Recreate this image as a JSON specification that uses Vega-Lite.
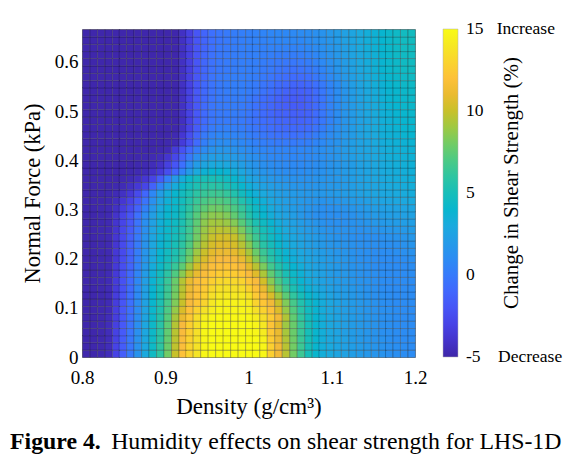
{
"$schema": "https://vega.github.io/schema/vega-lite/v6.json",
"width": 333, "height": 328,
"autosize": {"type": "none"},
"padding": {"left": 82, "top": 29, "right": 158, "bottom": 98},
"background": "white",
"config": {"view": {"stroke": "#a8a8a8", "strokeWidth": 1}, "font": "Liberation Serif"},
"title": {"text": "Figure 4.", "subtitle": "\u200b\u00a0\u00a0\u00a0\u00a0\u00a0\u00a0\u00a0\u00a0\u00a0\u00a0\u00a0\u00a0\u00a0\u00a0\u00a0\u00a0\u00a0Humidity effects on shear strength for LHS-1D", "orient": "bottom", "anchor": "start", "frame": "group", "dx": -72, "offset": 12, "font": "Liberation Serif", "fontSize": 23.8, "fontWeight": "bold", "color": "black", "subtitleFont": "Liberation Serif", "subtitleFontSize": 23.8, "subtitleFontWeight": "normal", "subtitleColor": "black", "subtitlePadding": -23.8},
"data": {"values": [
{"d":0.8,"f":0,"c":-4.9},{"d":0.809,"f":0,"c":-4.9},{"d":0.818,"f":0,"c":-4.8},{"d":0.827,"f":0,"c":-4.5},{"d":0.836,"f":0,"c":-3},{"d":0.844,"f":0,"c":-1.5},{"d":0.853,"f":0,"c":0},{"d":0.862,"f":0,"c":1.5},{"d":0.871,"f":0,"c":3},{"d":0.88,"f":0,"c":4.5},{"d":0.889,"f":0,"c":6},{"d":0.898,"f":0,"c":8},{"d":0.907,"f":0,"c":10},{"d":0.916,"f":0,"c":12},{"d":0.924,"f":0,"c":13},{"d":0.933,"f":0,"c":13.8},{"d":0.942,"f":0,"c":14.8},{"d":0.951,"f":0,"c":15},{"d":0.96,"f":0,"c":15},{"d":0.969,"f":0,"c":15},{"d":0.978,"f":0,"c":15},{"d":0.987,"f":0,"c":15},{"d":0.996,"f":0,"c":15},{"d":1.004,"f":0,"c":15},{"d":1.013,"f":0,"c":14.8},{"d":1.022,"f":0,"c":12.8},{"d":1.031,"f":0,"c":11.3},{"d":1.04,"f":0,"c":9.6},{"d":1.049,"f":0,"c":8},{"d":1.058,"f":0,"c":6.5},{"d":1.067,"f":0,"c":5},{"d":1.076,"f":0,"c":4},{"d":1.084,"f":0,"c":3.3},{"d":1.093,"f":0,"c":3},{"d":1.102,"f":0,"c":2.7},{"d":1.111,"f":0,"c":2.5},{"d":1.12,"f":0,"c":2.2},{"d":1.129,"f":0,"c":2},{"d":1.138,"f":0,"c":1.8},{"d":1.147,"f":0,"c":1.6},{"d":1.156,"f":0,"c":1.5},{"d":1.164,"f":0,"c":1.3},{"d":1.173,"f":0,"c":1.2},{"d":1.182,"f":0,"c":1.1},{"d":1.191,"f":0,"c":1},
{"d":0.8,"f":0.015,"c":-4.9},{"d":0.809,"f":0.015,"c":-4.9},{"d":0.818,"f":0.015,"c":-4.8},{"d":0.827,"f":0.015,"c":-4.5},{"d":0.836,"f":0.015,"c":-3},{"d":0.844,"f":0.015,"c":-1.6},{"d":0.853,"f":0.015,"c":-0.1},{"d":0.862,"f":0.015,"c":1.4},{"d":0.871,"f":0.015,"c":2.9},{"d":0.88,"f":0.015,"c":4.4},{"d":0.889,"f":0.015,"c":6},{"d":0.898,"f":0.015,"c":7.8},{"d":0.907,"f":0.015,"c":9.8},{"d":0.916,"f":0.015,"c":11.8},{"d":0.924,"f":0.015,"c":13},{"d":0.933,"f":0.015,"c":13.7},{"d":0.942,"f":0.015,"c":14.8},{"d":0.951,"f":0.015,"c":15},{"d":0.96,"f":0.015,"c":15},{"d":0.969,"f":0.015,"c":15},{"d":0.978,"f":0.015,"c":15},{"d":0.987,"f":0.015,"c":15},{"d":0.996,"f":0.015,"c":15},{"d":1.004,"f":0.015,"c":15},{"d":1.013,"f":0.015,"c":14.7},{"d":1.022,"f":0.015,"c":12.8},{"d":1.031,"f":0.015,"c":11.3},{"d":1.04,"f":0.015,"c":9.6},{"d":1.049,"f":0.015,"c":8},{"d":1.058,"f":0.015,"c":6.5},{"d":1.067,"f":0.015,"c":5},{"d":1.076,"f":0.015,"c":4},{"d":1.084,"f":0.015,"c":3.3},{"d":1.093,"f":0.015,"c":3},{"d":1.102,"f":0.015,"c":2.7},{"d":1.111,"f":0.015,"c":2.4},{"d":1.12,"f":0.015,"c":2.2},{"d":1.129,"f":0.015,"c":2},{"d":1.138,"f":0.015,"c":1.8},{"d":1.147,"f":0.015,"c":1.6},{"d":1.156,"f":0.015,"c":1.4},{"d":1.164,"f":0.015,"c":1.3},{"d":1.173,"f":0.015,"c":1.2},{"d":1.182,"f":0.015,"c":1.1},{"d":1.191,"f":0.015,"c":1},
{"d":0.8,"f":0.03,"c":-4.9},{"d":0.809,"f":0.03,"c":-4.9},{"d":0.818,"f":0.03,"c":-4.8},{"d":0.827,"f":0.03,"c":-4.5},{"d":0.836,"f":0.03,"c":-3.1},{"d":0.844,"f":0.03,"c":-1.6},{"d":0.853,"f":0.03,"c":-0.1},{"d":0.862,"f":0.03,"c":1.4},{"d":0.871,"f":0.03,"c":2.9},{"d":0.88,"f":0.03,"c":4.4},{"d":0.889,"f":0.03,"c":5.9},{"d":0.898,"f":0.03,"c":7.7},{"d":0.907,"f":0.03,"c":9.7},{"d":0.916,"f":0.03,"c":11.7},{"d":0.924,"f":0.03,"c":12.9},{"d":0.933,"f":0.03,"c":13.7},{"d":0.942,"f":0.03,"c":14.8},{"d":0.951,"f":0.03,"c":15},{"d":0.96,"f":0.03,"c":15},{"d":0.969,"f":0.03,"c":15},{"d":0.978,"f":0.03,"c":15},{"d":0.987,"f":0.03,"c":15},{"d":0.996,"f":0.03,"c":15},{"d":1.004,"f":0.03,"c":15},{"d":1.013,"f":0.03,"c":14.5},{"d":1.022,"f":0.03,"c":12.6},{"d":1.031,"f":0.03,"c":11.1},{"d":1.04,"f":0.03,"c":9.4},{"d":1.049,"f":0.03,"c":7.9},{"d":1.058,"f":0.03,"c":6.4},{"d":1.067,"f":0.03,"c":5},{"d":1.076,"f":0.03,"c":4},{"d":1.084,"f":0.03,"c":3.3},{"d":1.093,"f":0.03,"c":2.9},{"d":1.102,"f":0.03,"c":2.7},{"d":1.111,"f":0.03,"c":2.4},{"d":1.12,"f":0.03,"c":2.1},{"d":1.129,"f":0.03,"c":1.9},{"d":1.138,"f":0.03,"c":1.7},{"d":1.147,"f":0.03,"c":1.5},{"d":1.156,"f":0.03,"c":1.4},{"d":1.164,"f":0.03,"c":1.2},{"d":1.173,"f":0.03,"c":1.1},{"d":1.182,"f":0.03,"c":1},{"d":1.191,"f":0.03,"c":1},
{"d":0.8,"f":0.044,"c":-4.9},{"d":0.809,"f":0.044,"c":-4.9},{"d":0.818,"f":0.044,"c":-4.8},{"d":0.827,"f":0.044,"c":-4.5},{"d":0.836,"f":0.044,"c":-3.1},{"d":0.844,"f":0.044,"c":-1.7},{"d":0.853,"f":0.044,"c":-0.2},{"d":0.862,"f":0.044,"c":1.3},{"d":0.871,"f":0.044,"c":2.8},{"d":0.88,"f":0.044,"c":4.3},{"d":0.889,"f":0.044,"c":5.8},{"d":0.898,"f":0.044,"c":7.6},{"d":0.907,"f":0.044,"c":9.6},{"d":0.916,"f":0.044,"c":11.6},{"d":0.924,"f":0.044,"c":12.8},{"d":0.933,"f":0.044,"c":13.6},{"d":0.942,"f":0.044,"c":14.8},{"d":0.951,"f":0.044,"c":15},{"d":0.96,"f":0.044,"c":15},{"d":0.969,"f":0.044,"c":15},{"d":0.978,"f":0.044,"c":15},{"d":0.987,"f":0.044,"c":15},{"d":0.996,"f":0.044,"c":15},{"d":1.004,"f":0.044,"c":14.8},{"d":1.013,"f":0.044,"c":14.2},{"d":1.022,"f":0.044,"c":12.4},{"d":1.031,"f":0.044,"c":11},{"d":1.04,"f":0.044,"c":9.2},{"d":1.049,"f":0.044,"c":7.8},{"d":1.058,"f":0.044,"c":6.3},{"d":1.067,"f":0.044,"c":5},{"d":1.076,"f":0.044,"c":4},{"d":1.084,"f":0.044,"c":3.3},{"d":1.093,"f":0.044,"c":2.9},{"d":1.102,"f":0.044,"c":2.6},{"d":1.111,"f":0.044,"c":2.3},{"d":1.12,"f":0.044,"c":2.1},{"d":1.129,"f":0.044,"c":1.9},{"d":1.138,"f":0.044,"c":1.7},{"d":1.147,"f":0.044,"c":1.5},{"d":1.156,"f":0.044,"c":1.3},{"d":1.164,"f":0.044,"c":1.2},{"d":1.173,"f":0.044,"c":1.1},{"d":1.182,"f":0.044,"c":1},{"d":1.191,"f":0.044,"c":1},
{"d":0.8,"f":0.059,"c":-4.9},{"d":0.809,"f":0.059,"c":-4.9},{"d":0.818,"f":0.059,"c":-4.8},{"d":0.827,"f":0.059,"c":-4.5},{"d":0.836,"f":0.059,"c":-3.2},{"d":0.844,"f":0.059,"c":-1.8},{"d":0.853,"f":0.059,"c":-0.3},{"d":0.862,"f":0.059,"c":1.2},{"d":0.871,"f":0.059,"c":2.8},{"d":0.88,"f":0.059,"c":4.3},{"d":0.889,"f":0.059,"c":5.8},{"d":0.898,"f":0.059,"c":7.5},{"d":0.907,"f":0.059,"c":9.5},{"d":0.916,"f":0.059,"c":11.5},{"d":0.924,"f":0.059,"c":12.8},{"d":0.933,"f":0.059,"c":13.6},{"d":0.942,"f":0.059,"c":14.8},{"d":0.951,"f":0.059,"c":15},{"d":0.96,"f":0.059,"c":15},{"d":0.969,"f":0.059,"c":15},{"d":0.978,"f":0.059,"c":15},{"d":0.987,"f":0.059,"c":15},{"d":0.996,"f":0.059,"c":15},{"d":1.004,"f":0.059,"c":14.7},{"d":1.013,"f":0.059,"c":14},{"d":1.022,"f":0.059,"c":12.2},{"d":1.031,"f":0.059,"c":10.8},{"d":1.04,"f":0.059,"c":9},{"d":1.049,"f":0.059,"c":7.8},{"d":1.058,"f":0.059,"c":6.3},{"d":1.067,"f":0.059,"c":5},{"d":1.076,"f":0.059,"c":4},{"d":1.084,"f":0.059,"c":3.3},{"d":1.093,"f":0.059,"c":2.9},{"d":1.102,"f":0.059,"c":2.6},{"d":1.111,"f":0.059,"c":2.3},{"d":1.12,"f":0.059,"c":2.1},{"d":1.129,"f":0.059,"c":1.9},{"d":1.138,"f":0.059,"c":1.7},{"d":1.147,"f":0.059,"c":1.5},{"d":1.156,"f":0.059,"c":1.3},{"d":1.164,"f":0.059,"c":1.2},{"d":1.173,"f":0.059,"c":1.1},{"d":1.182,"f":0.059,"c":1},{"d":1.191,"f":0.059,"c":1},
{"d":0.8,"f":0.074,"c":-4.9},{"d":0.809,"f":0.074,"c":-4.9},{"d":0.818,"f":0.074,"c":-4.8},{"d":0.827,"f":0.074,"c":-4.5},{"d":0.836,"f":0.074,"c":-3.3},{"d":0.844,"f":0.074,"c":-1.9},{"d":0.853,"f":0.074,"c":-0.4},{"d":0.862,"f":0.074,"c":1.1},{"d":0.871,"f":0.074,"c":2.7},{"d":0.88,"f":0.074,"c":4.2},{"d":0.889,"f":0.074,"c":5.6},{"d":0.898,"f":0.074,"c":7.3},{"d":0.907,"f":0.074,"c":9.2},{"d":0.916,"f":0.074,"c":11},{"d":0.924,"f":0.074,"c":12.4},{"d":0.933,"f":0.074,"c":13.5},{"d":0.942,"f":0.074,"c":14.4},{"d":0.951,"f":0.074,"c":14.8},{"d":0.96,"f":0.074,"c":14.9},{"d":0.969,"f":0.074,"c":14.9},{"d":0.978,"f":0.074,"c":14.9},{"d":0.987,"f":0.074,"c":14.9},{"d":0.996,"f":0.074,"c":14.8},{"d":1.004,"f":0.074,"c":14.3},{"d":1.013,"f":0.074,"c":13.5},{"d":1.022,"f":0.074,"c":12.6},{"d":1.031,"f":0.074,"c":11.3},{"d":1.04,"f":0.074,"c":9.4},{"d":1.049,"f":0.074,"c":7.6},{"d":1.058,"f":0.074,"c":6.1},{"d":1.067,"f":0.074,"c":4.8},{"d":1.076,"f":0.074,"c":3.9},{"d":1.084,"f":0.074,"c":3.3},{"d":1.093,"f":0.074,"c":2.9},{"d":1.102,"f":0.074,"c":2.6},{"d":1.111,"f":0.074,"c":2.3},{"d":1.12,"f":0.074,"c":2.1},{"d":1.129,"f":0.074,"c":1.9},{"d":1.138,"f":0.074,"c":1.7},{"d":1.147,"f":0.074,"c":1.5},{"d":1.156,"f":0.074,"c":1.3},{"d":1.164,"f":0.074,"c":1.2},{"d":1.173,"f":0.074,"c":1.1},{"d":1.182,"f":0.074,"c":1},{"d":1.191,"f":0.074,"c":1},
{"d":0.8,"f":0.089,"c":-4.9},{"d":0.809,"f":0.089,"c":-4.9},{"d":0.818,"f":0.089,"c":-4.8},{"d":0.827,"f":0.089,"c":-4.6},{"d":0.836,"f":0.089,"c":-3.3},{"d":0.844,"f":0.089,"c":-1.9},{"d":0.853,"f":0.089,"c":-0.5},{"d":0.862,"f":0.089,"c":1},{"d":0.871,"f":0.089,"c":2.6},{"d":0.88,"f":0.089,"c":4.1},{"d":0.889,"f":0.089,"c":5.4},{"d":0.898,"f":0.089,"c":7},{"d":0.907,"f":0.089,"c":8.8},{"d":0.916,"f":0.089,"c":10.5},{"d":0.924,"f":0.089,"c":12},{"d":0.933,"f":0.089,"c":12.9},{"d":0.942,"f":0.089,"c":13.7},{"d":0.951,"f":0.089,"c":14.3},{"d":0.96,"f":0.089,"c":14.7},{"d":0.969,"f":0.089,"c":14.7},{"d":0.978,"f":0.089,"c":14.7},{"d":0.987,"f":0.089,"c":14.7},{"d":0.996,"f":0.089,"c":14.5},{"d":1.004,"f":0.089,"c":13.6},{"d":1.013,"f":0.089,"c":12.9},{"d":1.022,"f":0.089,"c":12},{"d":1.031,"f":0.089,"c":10.6},{"d":1.04,"f":0.089,"c":8.8},{"d":1.049,"f":0.089,"c":7.2},{"d":1.058,"f":0.089,"c":5.8},{"d":1.067,"f":0.089,"c":4.6},{"d":1.076,"f":0.089,"c":3.8},{"d":1.084,"f":0.089,"c":3.2},{"d":1.093,"f":0.089,"c":2.8},{"d":1.102,"f":0.089,"c":2.5},{"d":1.111,"f":0.089,"c":2.2},{"d":1.12,"f":0.089,"c":2},{"d":1.129,"f":0.089,"c":1.8},{"d":1.138,"f":0.089,"c":1.6},{"d":1.147,"f":0.089,"c":1.4},{"d":1.156,"f":0.089,"c":1.3},{"d":1.164,"f":0.089,"c":1.2},{"d":1.173,"f":0.089,"c":1.1},{"d":1.182,"f":0.089,"c":1},{"d":1.191,"f":0.089,"c":1},
{"d":0.8,"f":0.104,"c":-4.9},{"d":0.809,"f":0.104,"c":-4.9},{"d":0.818,"f":0.104,"c":-4.8},{"d":0.827,"f":0.104,"c":-4.6},{"d":0.836,"f":0.104,"c":-3.4},{"d":0.844,"f":0.104,"c":-2},{"d":0.853,"f":0.104,"c":-0.5},{"d":0.862,"f":0.104,"c":1},{"d":0.871,"f":0.104,"c":2.5},{"d":0.88,"f":0.104,"c":4},{"d":0.889,"f":0.104,"c":5.3},{"d":0.898,"f":0.104,"c":6.8},{"d":0.907,"f":0.104,"c":8.3},{"d":0.916,"f":0.104,"c":10},{"d":0.924,"f":0.104,"c":11.5},{"d":0.933,"f":0.104,"c":12.3},{"d":0.942,"f":0.104,"c":13},{"d":0.951,"f":0.104,"c":14},{"d":0.96,"f":0.104,"c":14.5},{"d":0.969,"f":0.104,"c":14.6},{"d":0.978,"f":0.104,"c":14.6},{"d":0.987,"f":0.104,"c":14.5},{"d":0.996,"f":0.104,"c":14.2},{"d":1.004,"f":0.104,"c":13},{"d":1.013,"f":0.104,"c":12.3},{"d":1.022,"f":0.104,"c":11.3},{"d":1.031,"f":0.104,"c":10},{"d":1.04,"f":0.104,"c":8.3},{"d":1.049,"f":0.104,"c":6.8},{"d":1.058,"f":0.104,"c":5.5},{"d":1.067,"f":0.104,"c":4.5},{"d":1.076,"f":0.104,"c":3.8},{"d":1.084,"f":0.104,"c":3.2},{"d":1.093,"f":0.104,"c":2.8},{"d":1.102,"f":0.104,"c":2.5},{"d":1.111,"f":0.104,"c":2.2},{"d":1.12,"f":0.104,"c":2},{"d":1.129,"f":0.104,"c":1.8},{"d":1.138,"f":0.104,"c":1.6},{"d":1.147,"f":0.104,"c":1.4},{"d":1.156,"f":0.104,"c":1.2},{"d":1.164,"f":0.104,"c":1.1},{"d":1.173,"f":0.104,"c":1},{"d":1.182,"f":0.104,"c":1},{"d":1.191,"f":0.104,"c":1},
{"d":0.8,"f":0.119,"c":-4.9},{"d":0.809,"f":0.119,"c":-4.9},{"d":0.818,"f":0.119,"c":-4.8},{"d":0.827,"f":0.119,"c":-4.6},{"d":0.836,"f":0.119,"c":-3.4},{"d":0.844,"f":0.119,"c":-2.1},{"d":0.853,"f":0.119,"c":-0.6},{"d":0.862,"f":0.119,"c":0.9},{"d":0.871,"f":0.119,"c":2.4},{"d":0.88,"f":0.119,"c":3.9},{"d":0.889,"f":0.119,"c":5.2},{"d":0.898,"f":0.119,"c":6.6},{"d":0.907,"f":0.119,"c":8.1},{"d":0.916,"f":0.119,"c":9.8},{"d":0.924,"f":0.119,"c":11.3},{"d":0.933,"f":0.119,"c":12.1},{"d":0.942,"f":0.119,"c":12.8},{"d":0.951,"f":0.119,"c":13.6},{"d":0.96,"f":0.119,"c":14},{"d":0.969,"f":0.119,"c":14.1},{"d":0.978,"f":0.119,"c":14.1},{"d":0.987,"f":0.119,"c":14},{"d":0.996,"f":0.119,"c":13.6},{"d":1.004,"f":0.119,"c":12.5},{"d":1.013,"f":0.119,"c":11.7},{"d":1.022,"f":0.119,"c":10.5},{"d":1.031,"f":0.119,"c":9},{"d":1.04,"f":0.119,"c":7.5},{"d":1.049,"f":0.119,"c":6.1},{"d":1.058,"f":0.119,"c":5},{"d":1.067,"f":0.119,"c":4.1},{"d":1.076,"f":0.119,"c":3.5},{"d":1.084,"f":0.119,"c":3},{"d":1.093,"f":0.119,"c":2.6},{"d":1.102,"f":0.119,"c":2.3},{"d":1.111,"f":0.119,"c":2.1},{"d":1.12,"f":0.119,"c":1.9},{"d":1.129,"f":0.119,"c":1.7},{"d":1.138,"f":0.119,"c":1.5},{"d":1.147,"f":0.119,"c":1.3},{"d":1.156,"f":0.119,"c":1.2},{"d":1.164,"f":0.119,"c":1.1},{"d":1.173,"f":0.119,"c":1},{"d":1.182,"f":0.119,"c":1},{"d":1.191,"f":0.119,"c":1},
{"d":0.8,"f":0.133,"c":-4.9},{"d":0.809,"f":0.133,"c":-4.9},{"d":0.818,"f":0.133,"c":-4.8},{"d":0.827,"f":0.133,"c":-4.6},{"d":0.836,"f":0.133,"c":-3.5},{"d":0.844,"f":0.133,"c":-2.2},{"d":0.853,"f":0.133,"c":-0.7},{"d":0.862,"f":0.133,"c":0.9},{"d":0.871,"f":0.133,"c":2.4},{"d":0.88,"f":0.133,"c":3.8},{"d":0.889,"f":0.133,"c":5.1},{"d":0.898,"f":0.133,"c":6.4},{"d":0.907,"f":0.133,"c":7.9},{"d":0.916,"f":0.133,"c":9.6},{"d":0.924,"f":0.133,"c":11.1},{"d":0.933,"f":0.133,"c":11.9},{"d":0.942,"f":0.133,"c":12.5},{"d":0.951,"f":0.133,"c":13.2},{"d":0.96,"f":0.133,"c":13.6},{"d":0.969,"f":0.133,"c":13.7},{"d":0.978,"f":0.133,"c":13.6},{"d":0.987,"f":0.133,"c":13.5},{"d":0.996,"f":0.133,"c":12.9},{"d":1.004,"f":0.133,"c":12},{"d":1.013,"f":0.133,"c":11},{"d":1.022,"f":0.133,"c":9.3},{"d":1.031,"f":0.133,"c":7.8},{"d":1.04,"f":0.133,"c":6.5},{"d":1.049,"f":0.133,"c":5.3},{"d":1.058,"f":0.133,"c":4.3},{"d":1.067,"f":0.133,"c":3.5},{"d":1.076,"f":0.133,"c":3.1},{"d":1.084,"f":0.133,"c":2.7},{"d":1.093,"f":0.133,"c":2.4},{"d":1.102,"f":0.133,"c":2.1},{"d":1.111,"f":0.133,"c":2},{"d":1.12,"f":0.133,"c":1.8},{"d":1.129,"f":0.133,"c":1.6},{"d":1.138,"f":0.133,"c":1.4},{"d":1.147,"f":0.133,"c":1.3},{"d":1.156,"f":0.133,"c":1.1},{"d":1.164,"f":0.133,"c":1},{"d":1.173,"f":0.133,"c":1},{"d":1.182,"f":0.133,"c":1},{"d":1.191,"f":0.133,"c":1},
{"d":0.8,"f":0.148,"c":-4.9},{"d":0.809,"f":0.148,"c":-4.9},{"d":0.818,"f":0.148,"c":-4.8},{"d":0.827,"f":0.148,"c":-4.6},{"d":0.836,"f":0.148,"c":-3.5},{"d":0.844,"f":0.148,"c":-2.2},{"d":0.853,"f":0.148,"c":-0.8},{"d":0.862,"f":0.148,"c":0.8},{"d":0.871,"f":0.148,"c":2.3},{"d":0.88,"f":0.148,"c":3.7},{"d":0.889,"f":0.148,"c":5},{"d":0.898,"f":0.148,"c":6.3},{"d":0.907,"f":0.148,"c":7.8},{"d":0.916,"f":0.148,"c":9.5},{"d":0.924,"f":0.148,"c":11},{"d":0.933,"f":0.148,"c":11.8},{"d":0.942,"f":0.148,"c":12.3},{"d":0.951,"f":0.148,"c":12.8},{"d":0.96,"f":0.148,"c":13.2},{"d":0.969,"f":0.148,"c":13.3},{"d":0.978,"f":0.148,"c":13.2},{"d":0.987,"f":0.148,"c":13},{"d":0.996,"f":0.148,"c":12.3},{"d":1.004,"f":0.148,"c":11.6},{"d":1.013,"f":0.148,"c":10.3},{"d":1.022,"f":0.148,"c":8.5},{"d":1.031,"f":0.148,"c":7},{"d":1.04,"f":0.148,"c":5.8},{"d":1.049,"f":0.148,"c":4.7},{"d":1.058,"f":0.148,"c":3.8},{"d":1.067,"f":0.148,"c":3.2},{"d":1.076,"f":0.148,"c":2.8},{"d":1.084,"f":0.148,"c":2.5},{"d":1.093,"f":0.148,"c":2.2},{"d":1.102,"f":0.148,"c":2},{"d":1.111,"f":0.148,"c":1.9},{"d":1.12,"f":0.148,"c":1.7},{"d":1.129,"f":0.148,"c":1.5},{"d":1.138,"f":0.148,"c":1.4},{"d":1.147,"f":0.148,"c":1.2},{"d":1.156,"f":0.148,"c":1.1},{"d":1.164,"f":0.148,"c":1},{"d":1.173,"f":0.148,"c":1},{"d":1.182,"f":0.148,"c":1},{"d":1.191,"f":0.148,"c":1},
{"d":0.8,"f":0.163,"c":-4.9},{"d":0.809,"f":0.163,"c":-4.9},{"d":0.818,"f":0.163,"c":-4.8},{"d":0.827,"f":0.163,"c":-4.6},{"d":0.836,"f":0.163,"c":-3.6},{"d":0.844,"f":0.163,"c":-2.3},{"d":0.853,"f":0.163,"c":-0.9},{"d":0.862,"f":0.163,"c":0.6},{"d":0.871,"f":0.163,"c":2.1},{"d":0.88,"f":0.163,"c":3.5},{"d":0.889,"f":0.163,"c":4.7},{"d":0.898,"f":0.163,"c":5.9},{"d":0.907,"f":0.163,"c":7.1},{"d":0.916,"f":0.163,"c":8.5},{"d":0.924,"f":0.163,"c":10},{"d":0.933,"f":0.163,"c":11},{"d":0.942,"f":0.163,"c":11.7},{"d":0.951,"f":0.163,"c":12.3},{"d":0.96,"f":0.163,"c":12.6},{"d":0.969,"f":0.163,"c":12.7},{"d":0.978,"f":0.163,"c":12.6},{"d":0.987,"f":0.163,"c":12.3},{"d":0.996,"f":0.163,"c":11.6},{"d":1.004,"f":0.163,"c":10.7},{"d":1.013,"f":0.163,"c":9.3},{"d":1.022,"f":0.163,"c":7.6},{"d":1.031,"f":0.163,"c":6.3},{"d":1.04,"f":0.163,"c":5.2},{"d":1.049,"f":0.163,"c":4.3},{"d":1.058,"f":0.163,"c":3.6},{"d":1.067,"f":0.163,"c":3},{"d":1.076,"f":0.163,"c":2.7},{"d":1.084,"f":0.163,"c":2.4},{"d":1.093,"f":0.163,"c":2.1},{"d":1.102,"f":0.163,"c":1.9},{"d":1.111,"f":0.163,"c":1.8},{"d":1.12,"f":0.163,"c":1.6},{"d":1.129,"f":0.163,"c":1.4},{"d":1.138,"f":0.163,"c":1.3},{"d":1.147,"f":0.163,"c":1.2},{"d":1.156,"f":0.163,"c":1.1},{"d":1.164,"f":0.163,"c":1},{"d":1.173,"f":0.163,"c":1},{"d":1.182,"f":0.163,"c":1},{"d":1.191,"f":0.163,"c":1.1},
{"d":0.8,"f":0.178,"c":-4.9},{"d":0.809,"f":0.178,"c":-4.9},{"d":0.818,"f":0.178,"c":-4.8},{"d":0.827,"f":0.178,"c":-4.7},{"d":0.836,"f":0.178,"c":-3.6},{"d":0.844,"f":0.178,"c":-2.4},{"d":0.853,"f":0.178,"c":-1.1},{"d":0.862,"f":0.178,"c":0.4},{"d":0.871,"f":0.178,"c":1.9},{"d":0.88,"f":0.178,"c":3.2},{"d":0.889,"f":0.178,"c":4.3},{"d":0.898,"f":0.178,"c":5.3},{"d":0.907,"f":0.178,"c":6.3},{"d":0.916,"f":0.178,"c":7.5},{"d":0.924,"f":0.178,"c":9},{"d":0.933,"f":0.178,"c":10.3},{"d":0.942,"f":0.178,"c":11.1},{"d":0.951,"f":0.178,"c":11.8},{"d":0.96,"f":0.178,"c":12},{"d":0.969,"f":0.178,"c":12.1},{"d":0.978,"f":0.178,"c":12},{"d":0.987,"f":0.178,"c":11.6},{"d":0.996,"f":0.178,"c":10.8},{"d":1.004,"f":0.178,"c":9.6},{"d":1.013,"f":0.178,"c":8.2},{"d":1.022,"f":0.178,"c":6.7},{"d":1.031,"f":0.178,"c":5.6},{"d":1.04,"f":0.178,"c":4.6},{"d":1.049,"f":0.178,"c":3.8},{"d":1.058,"f":0.178,"c":3.3},{"d":1.067,"f":0.178,"c":2.8},{"d":1.076,"f":0.178,"c":2.5},{"d":1.084,"f":0.178,"c":2.3},{"d":1.093,"f":0.178,"c":2.1},{"d":1.102,"f":0.178,"c":1.9},{"d":1.111,"f":0.178,"c":1.7},{"d":1.12,"f":0.178,"c":1.5},{"d":1.129,"f":0.178,"c":1.4},{"d":1.138,"f":0.178,"c":1.3},{"d":1.147,"f":0.178,"c":1.1},{"d":1.156,"f":0.178,"c":1},{"d":1.164,"f":0.178,"c":1},{"d":1.173,"f":0.178,"c":1},{"d":1.182,"f":0.178,"c":1},{"d":1.191,"f":0.178,"c":1.1},
{"d":0.8,"f":0.193,"c":-4.9},{"d":0.809,"f":0.193,"c":-4.9},{"d":0.818,"f":0.193,"c":-4.8},{"d":0.827,"f":0.193,"c":-4.7},{"d":0.836,"f":0.193,"c":-3.7},{"d":0.844,"f":0.193,"c":-2.5},{"d":0.853,"f":0.193,"c":-1.2},{"d":0.862,"f":0.193,"c":0.3},{"d":0.871,"f":0.193,"c":1.7},{"d":0.88,"f":0.193,"c":3},{"d":0.889,"f":0.193,"c":4},{"d":0.898,"f":0.193,"c":4.8},{"d":0.907,"f":0.193,"c":5.5},{"d":0.916,"f":0.193,"c":6.5},{"d":0.924,"f":0.193,"c":8},{"d":0.933,"f":0.193,"c":9.5},{"d":0.942,"f":0.193,"c":10.5},{"d":0.951,"f":0.193,"c":11.2},{"d":0.96,"f":0.193,"c":11.5},{"d":0.969,"f":0.193,"c":11.5},{"d":0.978,"f":0.193,"c":11.4},{"d":0.987,"f":0.193,"c":11},{"d":0.996,"f":0.193,"c":10},{"d":1.004,"f":0.193,"c":8.5},{"d":1.013,"f":0.193,"c":7},{"d":1.022,"f":0.193,"c":5.8},{"d":1.031,"f":0.193,"c":4.8},{"d":1.04,"f":0.193,"c":4},{"d":1.049,"f":0.193,"c":3.4},{"d":1.058,"f":0.193,"c":3},{"d":1.067,"f":0.193,"c":2.7},{"d":1.076,"f":0.193,"c":2.4},{"d":1.084,"f":0.193,"c":2.2},{"d":1.093,"f":0.193,"c":2},{"d":1.102,"f":0.193,"c":1.8},{"d":1.111,"f":0.193,"c":1.7},{"d":1.12,"f":0.193,"c":1.5},{"d":1.129,"f":0.193,"c":1.3},{"d":1.138,"f":0.193,"c":1.2},{"d":1.147,"f":0.193,"c":1.1},{"d":1.156,"f":0.193,"c":1},{"d":1.164,"f":0.193,"c":1},{"d":1.173,"f":0.193,"c":1},{"d":1.182,"f":0.193,"c":1.1},{"d":1.191,"f":0.193,"c":1.2},
{"d":0.8,"f":0.207,"c":-4.9},{"d":0.809,"f":0.207,"c":-4.9},{"d":0.818,"f":0.207,"c":-4.8},{"d":0.827,"f":0.207,"c":-4.7},{"d":0.836,"f":0.207,"c":-3.7},{"d":0.844,"f":0.207,"c":-2.6},{"d":0.853,"f":0.207,"c":-1.3},{"d":0.862,"f":0.207,"c":0.2},{"d":0.871,"f":0.207,"c":1.6},{"d":0.88,"f":0.207,"c":2.9},{"d":0.889,"f":0.207,"c":3.9},{"d":0.898,"f":0.207,"c":4.6},{"d":0.907,"f":0.207,"c":5.3},{"d":0.916,"f":0.207,"c":6.2},{"d":0.924,"f":0.207,"c":7.6},{"d":0.933,"f":0.207,"c":9},{"d":0.942,"f":0.207,"c":10.1},{"d":0.951,"f":0.207,"c":10.8},{"d":0.96,"f":0.207,"c":11.1},{"d":0.969,"f":0.207,"c":11.1},{"d":0.978,"f":0.207,"c":10.9},{"d":0.987,"f":0.207,"c":10.3},{"d":0.996,"f":0.207,"c":9.2},{"d":1.004,"f":0.207,"c":7.8},{"d":1.013,"f":0.207,"c":6.4},{"d":1.022,"f":0.207,"c":5.4},{"d":1.031,"f":0.207,"c":4.5},{"d":1.04,"f":0.207,"c":3.7},{"d":1.049,"f":0.207,"c":3.2},{"d":1.058,"f":0.207,"c":2.8},{"d":1.067,"f":0.207,"c":2.5},{"d":1.076,"f":0.207,"c":2.3},{"d":1.084,"f":0.207,"c":2.1},{"d":1.093,"f":0.207,"c":1.9},{"d":1.102,"f":0.207,"c":1.7},{"d":1.111,"f":0.207,"c":1.6},{"d":1.12,"f":0.207,"c":1.4},{"d":1.129,"f":0.207,"c":1.3},{"d":1.138,"f":0.207,"c":1.2},{"d":1.147,"f":0.207,"c":1.1},{"d":1.156,"f":0.207,"c":1.1},{"d":1.164,"f":0.207,"c":1.1},{"d":1.173,"f":0.207,"c":1.2},{"d":1.182,"f":0.207,"c":1.3},{"d":1.191,"f":0.207,"c":1.4},
{"d":0.8,"f":0.222,"c":-4.9},{"d":0.809,"f":0.222,"c":-4.9},{"d":0.818,"f":0.222,"c":-4.8},{"d":0.827,"f":0.222,"c":-4.7},{"d":0.836,"f":0.222,"c":-3.8},{"d":0.844,"f":0.222,"c":-2.6},{"d":0.853,"f":0.222,"c":-1.3},{"d":0.862,"f":0.222,"c":0.1},{"d":0.871,"f":0.222,"c":1.5},{"d":0.88,"f":0.222,"c":2.8},{"d":0.889,"f":0.222,"c":3.7},{"d":0.898,"f":0.222,"c":4.4},{"d":0.907,"f":0.222,"c":5.1},{"d":0.916,"f":0.222,"c":5.9},{"d":0.924,"f":0.222,"c":7.1},{"d":0.933,"f":0.222,"c":8.5},{"d":0.942,"f":0.222,"c":9.6},{"d":0.951,"f":0.222,"c":10.4},{"d":0.96,"f":0.222,"c":10.7},{"d":0.969,"f":0.222,"c":10.7},{"d":0.978,"f":0.222,"c":10.4},{"d":0.987,"f":0.222,"c":9.6},{"d":0.996,"f":0.222,"c":8.5},{"d":1.004,"f":0.222,"c":7.1},{"d":1.013,"f":0.222,"c":5.8},{"d":1.022,"f":0.222,"c":4.9},{"d":1.031,"f":0.222,"c":4.1},{"d":1.04,"f":0.222,"c":3.4},{"d":1.049,"f":0.222,"c":3},{"d":1.058,"f":0.222,"c":2.6},{"d":1.067,"f":0.222,"c":2.3},{"d":1.076,"f":0.222,"c":2.1},{"d":1.084,"f":0.222,"c":1.9},{"d":1.093,"f":0.222,"c":1.7},{"d":1.102,"f":0.222,"c":1.6},{"d":1.111,"f":0.222,"c":1.5},{"d":1.12,"f":0.222,"c":1.4},{"d":1.129,"f":0.222,"c":1.3},{"d":1.138,"f":0.222,"c":1.2},{"d":1.147,"f":0.222,"c":1.2},{"d":1.156,"f":0.222,"c":1.2},{"d":1.164,"f":0.222,"c":1.2},{"d":1.173,"f":0.222,"c":1.3},{"d":1.182,"f":0.222,"c":1.4},{"d":1.191,"f":0.222,"c":1.6},
{"d":0.8,"f":0.237,"c":-4.9},{"d":0.809,"f":0.237,"c":-4.9},{"d":0.818,"f":0.237,"c":-4.8},{"d":0.827,"f":0.237,"c":-4.7},{"d":0.836,"f":0.237,"c":-3.8},{"d":0.844,"f":0.237,"c":-2.7},{"d":0.853,"f":0.237,"c":-1.4},{"d":0.862,"f":0.237,"c":0},{"d":0.871,"f":0.237,"c":1.5},{"d":0.88,"f":0.237,"c":2.7},{"d":0.889,"f":0.237,"c":3.6},{"d":0.898,"f":0.237,"c":4.3},{"d":0.907,"f":0.237,"c":4.9},{"d":0.916,"f":0.237,"c":5.6},{"d":0.924,"f":0.237,"c":6.7},{"d":0.933,"f":0.237,"c":8},{"d":0.942,"f":0.237,"c":9.2},{"d":0.951,"f":0.237,"c":10},{"d":0.96,"f":0.237,"c":10.3},{"d":0.969,"f":0.237,"c":10.3},{"d":0.978,"f":0.237,"c":10},{"d":0.987,"f":0.237,"c":9},{"d":0.996,"f":0.237,"c":7.7},{"d":1.004,"f":0.237,"c":6.5},{"d":1.013,"f":0.237,"c":5.3},{"d":1.022,"f":0.237,"c":4.5},{"d":1.031,"f":0.237,"c":3.8},{"d":1.04,"f":0.237,"c":3.2},{"d":1.049,"f":0.237,"c":2.8},{"d":1.058,"f":0.237,"c":2.5},{"d":1.067,"f":0.237,"c":2.2},{"d":1.076,"f":0.237,"c":2},{"d":1.084,"f":0.237,"c":1.8},{"d":1.093,"f":0.237,"c":1.6},{"d":1.102,"f":0.237,"c":1.5},{"d":1.111,"f":0.237,"c":1.4},{"d":1.12,"f":0.237,"c":1.3},{"d":1.129,"f":0.237,"c":1.2},{"d":1.138,"f":0.237,"c":1.2},{"d":1.147,"f":0.237,"c":1.2},{"d":1.156,"f":0.237,"c":1.3},{"d":1.164,"f":0.237,"c":1.4},{"d":1.173,"f":0.237,"c":1.5},{"d":1.182,"f":0.237,"c":1.6},{"d":1.191,"f":0.237,"c":1.8},
{"d":0.8,"f":0.252,"c":-4.9},{"d":0.809,"f":0.252,"c":-4.9},{"d":0.818,"f":0.252,"c":-4.8},{"d":0.827,"f":0.252,"c":-4.7},{"d":0.836,"f":0.252,"c":-3.9},{"d":0.844,"f":0.252,"c":-2.8},{"d":0.853,"f":0.252,"c":-1.6},{"d":0.862,"f":0.252,"c":-0.2},{"d":0.871,"f":0.252,"c":1.3},{"d":0.88,"f":0.252,"c":2.6},{"d":0.889,"f":0.252,"c":3.5},{"d":0.898,"f":0.252,"c":4.2},{"d":0.907,"f":0.252,"c":4.7},{"d":0.916,"f":0.252,"c":5.5},{"d":0.924,"f":0.252,"c":6.5},{"d":0.933,"f":0.252,"c":7.8},{"d":0.942,"f":0.252,"c":8.9},{"d":0.951,"f":0.252,"c":9.5},{"d":0.96,"f":0.252,"c":9.7},{"d":0.969,"f":0.252,"c":9.6},{"d":0.978,"f":0.252,"c":9.2},{"d":0.987,"f":0.252,"c":8.2},{"d":0.996,"f":0.252,"c":7},{"d":1.004,"f":0.252,"c":6},{"d":1.013,"f":0.252,"c":5},{"d":1.022,"f":0.252,"c":4.3},{"d":1.031,"f":0.252,"c":3.6},{"d":1.04,"f":0.252,"c":3},{"d":1.049,"f":0.252,"c":2.6},{"d":1.058,"f":0.252,"c":2.3},{"d":1.067,"f":0.252,"c":2},{"d":1.076,"f":0.252,"c":1.8},{"d":1.084,"f":0.252,"c":1.6},{"d":1.093,"f":0.252,"c":1.5},{"d":1.102,"f":0.252,"c":1.4},{"d":1.111,"f":0.252,"c":1.4},{"d":1.12,"f":0.252,"c":1.4},{"d":1.129,"f":0.252,"c":1.3},{"d":1.138,"f":0.252,"c":1.4},{"d":1.147,"f":0.252,"c":1.5},{"d":1.156,"f":0.252,"c":1.6},{"d":1.164,"f":0.252,"c":1.7},{"d":1.173,"f":0.252,"c":1.8},{"d":1.182,"f":0.252,"c":1.9},{"d":1.191,"f":0.252,"c":2.1},
{"d":0.8,"f":0.267,"c":-4.9},{"d":0.809,"f":0.267,"c":-4.9},{"d":0.818,"f":0.267,"c":-4.8},{"d":0.827,"f":0.267,"c":-4.7},{"d":0.836,"f":0.267,"c":-3.9},{"d":0.844,"f":0.267,"c":-2.9},{"d":0.853,"f":0.267,"c":-1.8},{"d":0.862,"f":0.267,"c":-0.3},{"d":0.871,"f":0.267,"c":1.2},{"d":0.88,"f":0.267,"c":2.4},{"d":0.889,"f":0.267,"c":3.4},{"d":0.898,"f":0.267,"c":4.1},{"d":0.907,"f":0.267,"c":4.5},{"d":0.916,"f":0.267,"c":5.3},{"d":0.924,"f":0.267,"c":6.4},{"d":0.933,"f":0.267,"c":7.5},{"d":0.942,"f":0.267,"c":8.6},{"d":0.951,"f":0.267,"c":9.1},{"d":0.96,"f":0.267,"c":9.1},{"d":0.969,"f":0.267,"c":8.9},{"d":0.978,"f":0.267,"c":8.4},{"d":0.987,"f":0.267,"c":7.4},{"d":0.996,"f":0.267,"c":6.3},{"d":1.004,"f":0.267,"c":5.3},{"d":1.013,"f":0.267,"c":4.5},{"d":1.022,"f":0.267,"c":3.8},{"d":1.031,"f":0.267,"c":3.2},{"d":1.04,"f":0.267,"c":2.7},{"d":1.049,"f":0.267,"c":2.4},{"d":1.058,"f":0.267,"c":2.1},{"d":1.067,"f":0.267,"c":1.8},{"d":1.076,"f":0.267,"c":1.6},{"d":1.084,"f":0.267,"c":1.4},{"d":1.093,"f":0.267,"c":1.3},{"d":1.102,"f":0.267,"c":1.3},{"d":1.111,"f":0.267,"c":1.3},{"d":1.12,"f":0.267,"c":1.4},{"d":1.129,"f":0.267,"c":1.5},{"d":1.138,"f":0.267,"c":1.6},{"d":1.147,"f":0.267,"c":1.8},{"d":1.156,"f":0.267,"c":1.9},{"d":1.164,"f":0.267,"c":2},{"d":1.173,"f":0.267,"c":2.1},{"d":1.182,"f":0.267,"c":2.2},{"d":1.191,"f":0.267,"c":2.3},
{"d":0.8,"f":0.282,"c":-4.9},{"d":0.809,"f":0.282,"c":-4.9},{"d":0.818,"f":0.282,"c":-4.8},{"d":0.827,"f":0.282,"c":-4.7},{"d":0.836,"f":0.282,"c":-4},{"d":0.844,"f":0.282,"c":-3},{"d":0.853,"f":0.282,"c":-2},{"d":0.862,"f":0.282,"c":-0.5},{"d":0.871,"f":0.282,"c":1},{"d":0.88,"f":0.282,"c":2.3},{"d":0.889,"f":0.282,"c":3.3},{"d":0.898,"f":0.282,"c":4},{"d":0.907,"f":0.282,"c":4.3},{"d":0.916,"f":0.282,"c":5.2},{"d":0.924,"f":0.282,"c":6.3},{"d":0.933,"f":0.282,"c":7.3},{"d":0.942,"f":0.282,"c":8.2},{"d":0.951,"f":0.282,"c":8.6},{"d":0.96,"f":0.282,"c":8.6},{"d":0.969,"f":0.282,"c":8.3},{"d":0.978,"f":0.282,"c":7.6},{"d":0.987,"f":0.282,"c":6.6},{"d":0.996,"f":0.282,"c":5.6},{"d":1.004,"f":0.282,"c":4.6},{"d":1.013,"f":0.282,"c":4},{"d":1.022,"f":0.282,"c":3.3},{"d":1.031,"f":0.282,"c":2.8},{"d":1.04,"f":0.282,"c":2.5},{"d":1.049,"f":0.282,"c":2.2},{"d":1.058,"f":0.282,"c":1.8},{"d":1.067,"f":0.282,"c":1.5},{"d":1.076,"f":0.282,"c":1.3},{"d":1.084,"f":0.282,"c":1.2},{"d":1.093,"f":0.282,"c":1.2},{"d":1.102,"f":0.282,"c":1.2},{"d":1.111,"f":0.282,"c":1.3},{"d":1.12,"f":0.282,"c":1.4},{"d":1.129,"f":0.282,"c":1.6},{"d":1.138,"f":0.282,"c":1.8},{"d":1.147,"f":0.282,"c":2},{"d":1.156,"f":0.282,"c":2.1},{"d":1.164,"f":0.282,"c":2.2},{"d":1.173,"f":0.282,"c":2.3},{"d":1.182,"f":0.282,"c":2.4},{"d":1.191,"f":0.282,"c":2.5},
{"d":0.8,"f":0.296,"c":-4.9},{"d":0.809,"f":0.296,"c":-4.9},{"d":0.818,"f":0.296,"c":-4.8},{"d":0.827,"f":0.296,"c":-4.7},{"d":0.836,"f":0.296,"c":-4.2},{"d":0.844,"f":0.296,"c":-3.4},{"d":0.853,"f":0.296,"c":-2.5},{"d":0.862,"f":0.296,"c":-1.2},{"d":0.871,"f":0.296,"c":0.4},{"d":0.88,"f":0.296,"c":1.8},{"d":0.889,"f":0.296,"c":3},{"d":0.898,"f":0.296,"c":3.8},{"d":0.907,"f":0.296,"c":4.2},{"d":0.916,"f":0.296,"c":5},{"d":0.924,"f":0.296,"c":5.9},{"d":0.933,"f":0.296,"c":6.8},{"d":0.942,"f":0.296,"c":7.5},{"d":0.951,"f":0.296,"c":7.9},{"d":0.96,"f":0.296,"c":7.9},{"d":0.969,"f":0.296,"c":7.6},{"d":0.978,"f":0.296,"c":7},{"d":0.987,"f":0.296,"c":6.2},{"d":0.996,"f":0.296,"c":5.3},{"d":1.004,"f":0.296,"c":4.4},{"d":1.013,"f":0.296,"c":3.7},{"d":1.022,"f":0.296,"c":3.1},{"d":1.031,"f":0.296,"c":2.6},{"d":1.04,"f":0.296,"c":2.3},{"d":1.049,"f":0.296,"c":2.1},{"d":1.058,"f":0.296,"c":1.8},{"d":1.067,"f":0.296,"c":1.6},{"d":1.076,"f":0.296,"c":1.4},{"d":1.084,"f":0.296,"c":1.3},{"d":1.093,"f":0.296,"c":1.3},{"d":1.102,"f":0.296,"c":1.4},{"d":1.111,"f":0.296,"c":1.5},{"d":1.12,"f":0.296,"c":1.7},{"d":1.129,"f":0.296,"c":1.8},{"d":1.138,"f":0.296,"c":2},{"d":1.147,"f":0.296,"c":2.2},{"d":1.156,"f":0.296,"c":2.3},{"d":1.164,"f":0.296,"c":2.4},{"d":1.173,"f":0.296,"c":2.5},{"d":1.182,"f":0.296,"c":2.6},{"d":1.191,"f":0.296,"c":2.7},
{"d":0.8,"f":0.311,"c":-4.9},{"d":0.809,"f":0.311,"c":-4.9},{"d":0.818,"f":0.311,"c":-4.9},{"d":0.827,"f":0.311,"c":-4.8},{"d":0.836,"f":0.311,"c":-4.4},{"d":0.844,"f":0.311,"c":-3.8},{"d":0.853,"f":0.311,"c":-3},{"d":0.862,"f":0.311,"c":-1.9},{"d":0.871,"f":0.311,"c":-0.3},{"d":0.88,"f":0.311,"c":1.3},{"d":0.889,"f":0.311,"c":2.6},{"d":0.898,"f":0.311,"c":3.5},{"d":0.907,"f":0.311,"c":4.1},{"d":0.916,"f":0.311,"c":4.8},{"d":0.924,"f":0.311,"c":5.6},{"d":0.933,"f":0.311,"c":6.3},{"d":0.942,"f":0.311,"c":6.9},{"d":0.951,"f":0.311,"c":7.2},{"d":0.96,"f":0.311,"c":7.2},{"d":0.969,"f":0.311,"c":6.9},{"d":0.978,"f":0.311,"c":6.3},{"d":0.987,"f":0.311,"c":5.5},{"d":0.996,"f":0.311,"c":4.7},{"d":1.004,"f":0.311,"c":4},{"d":1.013,"f":0.311,"c":3.4},{"d":1.022,"f":0.311,"c":2.9},{"d":1.031,"f":0.311,"c":2.5},{"d":1.04,"f":0.311,"c":2.2},{"d":1.049,"f":0.311,"c":2},{"d":1.058,"f":0.311,"c":1.9},{"d":1.067,"f":0.311,"c":1.7},{"d":1.076,"f":0.311,"c":1.6},{"d":1.084,"f":0.311,"c":1.5},{"d":1.093,"f":0.311,"c":1.6},{"d":1.102,"f":0.311,"c":1.7},{"d":1.111,"f":0.311,"c":1.8},{"d":1.12,"f":0.311,"c":2},{"d":1.129,"f":0.311,"c":2.1},{"d":1.138,"f":0.311,"c":2.3},{"d":1.147,"f":0.311,"c":2.5},{"d":1.156,"f":0.311,"c":2.6},{"d":1.164,"f":0.311,"c":2.7},{"d":1.173,"f":0.311,"c":2.8},{"d":1.182,"f":0.311,"c":2.9},{"d":1.191,"f":0.311,"c":3},
{"d":0.8,"f":0.326,"c":-4.9},{"d":0.809,"f":0.326,"c":-4.9},{"d":0.818,"f":0.326,"c":-4.9},{"d":0.827,"f":0.326,"c":-4.8},{"d":0.836,"f":0.326,"c":-4.6},{"d":0.844,"f":0.326,"c":-4.2},{"d":0.853,"f":0.326,"c":-3.6},{"d":0.862,"f":0.326,"c":-2.6},{"d":0.871,"f":0.326,"c":-1},{"d":0.88,"f":0.326,"c":0.8},{"d":0.889,"f":0.326,"c":2.2},{"d":0.898,"f":0.326,"c":3.3},{"d":0.907,"f":0.326,"c":4},{"d":0.916,"f":0.326,"c":4.7},{"d":0.924,"f":0.326,"c":5.3},{"d":0.933,"f":0.326,"c":5.9},{"d":0.942,"f":0.326,"c":6.3},{"d":0.951,"f":0.326,"c":6.5},{"d":0.96,"f":0.326,"c":6.5},{"d":0.969,"f":0.326,"c":6.2},{"d":0.978,"f":0.326,"c":5.5},{"d":0.987,"f":0.326,"c":4.7},{"d":0.996,"f":0.326,"c":4},{"d":1.004,"f":0.326,"c":3.4},{"d":1.013,"f":0.326,"c":3},{"d":1.022,"f":0.326,"c":2.6},{"d":1.031,"f":0.326,"c":2.3},{"d":1.04,"f":0.326,"c":2.1},{"d":1.049,"f":0.326,"c":2},{"d":1.058,"f":0.326,"c":1.9},{"d":1.067,"f":0.326,"c":1.8},{"d":1.076,"f":0.326,"c":1.8},{"d":1.084,"f":0.326,"c":1.8},{"d":1.093,"f":0.326,"c":1.9},{"d":1.102,"f":0.326,"c":2},{"d":1.111,"f":0.326,"c":2.1},{"d":1.12,"f":0.326,"c":2.3},{"d":1.129,"f":0.326,"c":2.4},{"d":1.138,"f":0.326,"c":2.6},{"d":1.147,"f":0.326,"c":2.7},{"d":1.156,"f":0.326,"c":2.8},{"d":1.164,"f":0.326,"c":2.9},{"d":1.173,"f":0.326,"c":3},{"d":1.182,"f":0.326,"c":3.1},{"d":1.191,"f":0.326,"c":3.2},
{"d":0.8,"f":0.341,"c":-4.9},{"d":0.809,"f":0.341,"c":-4.9},{"d":0.818,"f":0.341,"c":-4.9},{"d":0.827,"f":0.341,"c":-4.9},{"d":0.836,"f":0.341,"c":-4.8},{"d":0.844,"f":0.341,"c":-4.6},{"d":0.853,"f":0.341,"c":-4.2},{"d":0.862,"f":0.341,"c":-3.7},{"d":0.871,"f":0.341,"c":-2.9},{"d":0.88,"f":0.341,"c":-1.3},{"d":0.889,"f":0.341,"c":0.5},{"d":0.898,"f":0.341,"c":2},{"d":0.907,"f":0.341,"c":3.2},{"d":0.916,"f":0.341,"c":4.1},{"d":0.924,"f":0.341,"c":4.8},{"d":0.933,"f":0.341,"c":5.3},{"d":0.942,"f":0.341,"c":5.7},{"d":0.951,"f":0.341,"c":5.8},{"d":0.96,"f":0.341,"c":5.7},{"d":0.969,"f":0.341,"c":5.3},{"d":0.978,"f":0.341,"c":4.7},{"d":0.987,"f":0.341,"c":4},{"d":0.996,"f":0.341,"c":3.4},{"d":1.004,"f":0.341,"c":2.9},{"d":1.013,"f":0.341,"c":2.5},{"d":1.022,"f":0.341,"c":2.2},{"d":1.031,"f":0.341,"c":2},{"d":1.04,"f":0.341,"c":1.8},{"d":1.049,"f":0.341,"c":1.7},{"d":1.058,"f":0.341,"c":1.6},{"d":1.067,"f":0.341,"c":1.6},{"d":1.076,"f":0.341,"c":1.6},{"d":1.084,"f":0.341,"c":1.7},{"d":1.093,"f":0.341,"c":1.8},{"d":1.102,"f":0.341,"c":1.9},{"d":1.111,"f":0.341,"c":2},{"d":1.12,"f":0.341,"c":2.2},{"d":1.129,"f":0.341,"c":2.4},{"d":1.138,"f":0.341,"c":2.6},{"d":1.147,"f":0.341,"c":2.7},{"d":1.156,"f":0.341,"c":2.9},{"d":1.164,"f":0.341,"c":3},{"d":1.173,"f":0.341,"c":3.1},{"d":1.182,"f":0.341,"c":3.2},{"d":1.191,"f":0.341,"c":3.3},
{"d":0.8,"f":0.356,"c":-4.9},{"d":0.809,"f":0.356,"c":-4.9},{"d":0.818,"f":0.356,"c":-4.9},{"d":0.827,"f":0.356,"c":-4.9},{"d":0.836,"f":0.356,"c":-4.9},{"d":0.844,"f":0.356,"c":-4.8},{"d":0.853,"f":0.356,"c":-4.6},{"d":0.862,"f":0.356,"c":-4.3},{"d":0.871,"f":0.356,"c":-3.8},{"d":0.88,"f":0.356,"c":-3},{"d":0.889,"f":0.356,"c":-1.5},{"d":0.898,"f":0.356,"c":0.3},{"d":0.907,"f":0.356,"c":1.9},{"d":0.916,"f":0.356,"c":3.2},{"d":0.924,"f":0.356,"c":4.2},{"d":0.933,"f":0.356,"c":4.8},{"d":0.942,"f":0.356,"c":5.1},{"d":0.951,"f":0.356,"c":5.1},{"d":0.96,"f":0.356,"c":5},{"d":0.969,"f":0.356,"c":4.6},{"d":0.978,"f":0.356,"c":4},{"d":0.987,"f":0.356,"c":3.4},{"d":0.996,"f":0.356,"c":2.8},{"d":1.004,"f":0.356,"c":2.4},{"d":1.013,"f":0.356,"c":2.1},{"d":1.022,"f":0.356,"c":1.8},{"d":1.031,"f":0.356,"c":1.6},{"d":1.04,"f":0.356,"c":1.5},{"d":1.049,"f":0.356,"c":1.4},{"d":1.058,"f":0.356,"c":1.4},{"d":1.067,"f":0.356,"c":1.4},{"d":1.076,"f":0.356,"c":1.5},{"d":1.084,"f":0.356,"c":1.6},{"d":1.093,"f":0.356,"c":1.7},{"d":1.102,"f":0.356,"c":1.8},{"d":1.111,"f":0.356,"c":2},{"d":1.12,"f":0.356,"c":2.2},{"d":1.129,"f":0.356,"c":2.4},{"d":1.138,"f":0.356,"c":2.6},{"d":1.147,"f":0.356,"c":2.8},{"d":1.156,"f":0.356,"c":2.9},{"d":1.164,"f":0.356,"c":3.1},{"d":1.173,"f":0.356,"c":3.2},{"d":1.182,"f":0.356,"c":3.3},{"d":1.191,"f":0.356,"c":3.4},
{"d":0.8,"f":0.371,"c":-4.9},{"d":0.809,"f":0.371,"c":-4.9},{"d":0.818,"f":0.371,"c":-4.9},{"d":0.827,"f":0.371,"c":-4.9},{"d":0.836,"f":0.371,"c":-4.9},{"d":0.844,"f":0.371,"c":-4.9},{"d":0.853,"f":0.371,"c":-4.8},{"d":0.862,"f":0.371,"c":-4.7},{"d":0.871,"f":0.371,"c":-4.5},{"d":0.88,"f":0.371,"c":-4.1},{"d":0.889,"f":0.371,"c":-3.5},{"d":0.898,"f":0.371,"c":-2.4},{"d":0.907,"f":0.371,"c":-1},{"d":0.916,"f":0.371,"c":0.6},{"d":0.924,"f":0.371,"c":2},{"d":0.933,"f":0.371,"c":3},{"d":0.942,"f":0.371,"c":3.6},{"d":0.951,"f":0.371,"c":3.9},{"d":0.96,"f":0.371,"c":3.9},{"d":0.969,"f":0.371,"c":3.7},{"d":0.978,"f":0.371,"c":3.3},{"d":0.987,"f":0.371,"c":2.8},{"d":0.996,"f":0.371,"c":2.3},{"d":1.004,"f":0.371,"c":1.9},{"d":1.013,"f":0.371,"c":1.6},{"d":1.022,"f":0.371,"c":1.4},{"d":1.031,"f":0.371,"c":1.2},{"d":1.04,"f":0.371,"c":1.1},{"d":1.049,"f":0.371,"c":1.1},{"d":1.058,"f":0.371,"c":1.1},{"d":1.067,"f":0.371,"c":1.2},{"d":1.076,"f":0.371,"c":1.3},{"d":1.084,"f":0.371,"c":1.4},{"d":1.093,"f":0.371,"c":1.6},{"d":1.102,"f":0.371,"c":1.8},{"d":1.111,"f":0.371,"c":2},{"d":1.12,"f":0.371,"c":2.2},{"d":1.129,"f":0.371,"c":2.4},{"d":1.138,"f":0.371,"c":2.6},{"d":1.147,"f":0.371,"c":2.8},{"d":1.156,"f":0.371,"c":3},{"d":1.164,"f":0.371,"c":3.1},{"d":1.173,"f":0.371,"c":3.2},{"d":1.182,"f":0.371,"c":3.3},{"d":1.191,"f":0.371,"c":3.4},
{"d":0.8,"f":0.385,"c":-4.9},{"d":0.809,"f":0.385,"c":-4.9},{"d":0.818,"f":0.385,"c":-4.9},{"d":0.827,"f":0.385,"c":-4.9},{"d":0.836,"f":0.385,"c":-4.9},{"d":0.844,"f":0.385,"c":-4.9},{"d":0.853,"f":0.385,"c":-4.9},{"d":0.862,"f":0.385,"c":-4.8},{"d":0.871,"f":0.385,"c":-4.7},{"d":0.88,"f":0.385,"c":-4.5},{"d":0.889,"f":0.385,"c":-4.1},{"d":0.898,"f":0.385,"c":-3.2},{"d":0.907,"f":0.385,"c":-2},{"d":0.916,"f":0.385,"c":-0.5},{"d":0.924,"f":0.385,"c":1},{"d":0.933,"f":0.385,"c":2.1},{"d":0.942,"f":0.385,"c":2.7},{"d":0.951,"f":0.385,"c":3},{"d":0.96,"f":0.385,"c":3},{"d":0.969,"f":0.385,"c":2.9},{"d":0.978,"f":0.385,"c":2.6},{"d":0.987,"f":0.385,"c":2.2},{"d":0.996,"f":0.385,"c":1.8},{"d":1.004,"f":0.385,"c":1.5},{"d":1.013,"f":0.385,"c":1.3},{"d":1.022,"f":0.385,"c":1.1},{"d":1.031,"f":0.385,"c":1},{"d":1.04,"f":0.385,"c":0.9},{"d":1.049,"f":0.385,"c":0.9},{"d":1.058,"f":0.385,"c":0.9},{"d":1.067,"f":0.385,"c":1},{"d":1.076,"f":0.385,"c":1.1},{"d":1.084,"f":0.385,"c":1.3},{"d":1.093,"f":0.385,"c":1.5},{"d":1.102,"f":0.385,"c":1.7},{"d":1.111,"f":0.385,"c":1.9},{"d":1.12,"f":0.385,"c":2.1},{"d":1.129,"f":0.385,"c":2.4},{"d":1.138,"f":0.385,"c":2.6},{"d":1.147,"f":0.385,"c":2.8},{"d":1.156,"f":0.385,"c":3},{"d":1.164,"f":0.385,"c":3.2},{"d":1.173,"f":0.385,"c":3.3},{"d":1.182,"f":0.385,"c":3.4},{"d":1.191,"f":0.385,"c":3.5},
{"d":0.8,"f":0.4,"c":-4.9},{"d":0.809,"f":0.4,"c":-4.9},{"d":0.818,"f":0.4,"c":-4.9},{"d":0.827,"f":0.4,"c":-4.9},{"d":0.836,"f":0.4,"c":-4.9},{"d":0.844,"f":0.4,"c":-4.9},{"d":0.853,"f":0.4,"c":-4.9},{"d":0.862,"f":0.4,"c":-4.9},{"d":0.871,"f":0.4,"c":-4.8},{"d":0.88,"f":0.4,"c":-4.7},{"d":0.889,"f":0.4,"c":-4.5},{"d":0.898,"f":0.4,"c":-3.9},{"d":0.907,"f":0.4,"c":-2.8},{"d":0.916,"f":0.4,"c":-1.4},{"d":0.924,"f":0.4,"c":0},{"d":0.933,"f":0.4,"c":1.2},{"d":0.942,"f":0.4,"c":1.9},{"d":0.951,"f":0.4,"c":2.2},{"d":0.96,"f":0.4,"c":2.3},{"d":0.969,"f":0.4,"c":2.2},{"d":0.978,"f":0.4,"c":2},{"d":0.987,"f":0.4,"c":1.7},{"d":0.996,"f":0.4,"c":1.4},{"d":1.004,"f":0.4,"c":1.2},{"d":1.013,"f":0.4,"c":1},{"d":1.022,"f":0.4,"c":0.8},{"d":1.031,"f":0.4,"c":0.8},{"d":1.04,"f":0.4,"c":0.7},{"d":1.049,"f":0.4,"c":0.7},{"d":1.058,"f":0.4,"c":0.8},{"d":1.067,"f":0.4,"c":0.9},{"d":1.076,"f":0.4,"c":1},{"d":1.084,"f":0.4,"c":1.2},{"d":1.093,"f":0.4,"c":1.4},{"d":1.102,"f":0.4,"c":1.7},{"d":1.111,"f":0.4,"c":2},{"d":1.12,"f":0.4,"c":2.2},{"d":1.129,"f":0.4,"c":2.5},{"d":1.138,"f":0.4,"c":2.7},{"d":1.147,"f":0.4,"c":2.9},{"d":1.156,"f":0.4,"c":3.1},{"d":1.164,"f":0.4,"c":3.3},{"d":1.173,"f":0.4,"c":3.4},{"d":1.182,"f":0.4,"c":3.5},{"d":1.191,"f":0.4,"c":3.6},
{"d":0.8,"f":0.415,"c":-4.9},{"d":0.809,"f":0.415,"c":-4.9},{"d":0.818,"f":0.415,"c":-4.9},{"d":0.827,"f":0.415,"c":-4.9},{"d":0.836,"f":0.415,"c":-4.9},{"d":0.844,"f":0.415,"c":-4.9},{"d":0.853,"f":0.415,"c":-4.9},{"d":0.862,"f":0.415,"c":-4.9},{"d":0.871,"f":0.415,"c":-4.9},{"d":0.88,"f":0.415,"c":-4.9},{"d":0.889,"f":0.415,"c":-4.8},{"d":0.898,"f":0.415,"c":-4.6},{"d":0.907,"f":0.415,"c":-3.5},{"d":0.916,"f":0.415,"c":-2.2},{"d":0.924,"f":0.415,"c":-0.9},{"d":0.933,"f":0.415,"c":0.2},{"d":0.942,"f":0.415,"c":1},{"d":0.951,"f":0.415,"c":1.5},{"d":0.96,"f":0.415,"c":1.7},{"d":0.969,"f":0.415,"c":1.7},{"d":0.978,"f":0.415,"c":1.5},{"d":0.987,"f":0.415,"c":1.2},{"d":0.996,"f":0.415,"c":1},{"d":1.004,"f":0.415,"c":0.8},{"d":1.013,"f":0.415,"c":0.7},{"d":1.022,"f":0.415,"c":0.6},{"d":1.031,"f":0.415,"c":0.6},{"d":1.04,"f":0.415,"c":0.6},{"d":1.049,"f":0.415,"c":0.6},{"d":1.058,"f":0.415,"c":0.7},{"d":1.067,"f":0.415,"c":0.8},{"d":1.076,"f":0.415,"c":1},{"d":1.084,"f":0.415,"c":1.2},{"d":1.093,"f":0.415,"c":1.4},{"d":1.102,"f":0.415,"c":1.7},{"d":1.111,"f":0.415,"c":2},{"d":1.12,"f":0.415,"c":2.3},{"d":1.129,"f":0.415,"c":2.5},{"d":1.138,"f":0.415,"c":2.7},{"d":1.147,"f":0.415,"c":2.9},{"d":1.156,"f":0.415,"c":3.1},{"d":1.164,"f":0.415,"c":3.3},{"d":1.173,"f":0.415,"c":3.4},{"d":1.182,"f":0.415,"c":3.5},{"d":1.191,"f":0.415,"c":3.6},
{"d":0.8,"f":0.43,"c":-4.9},{"d":0.809,"f":0.43,"c":-4.9},{"d":0.818,"f":0.43,"c":-4.9},{"d":0.827,"f":0.43,"c":-4.9},{"d":0.836,"f":0.43,"c":-4.9},{"d":0.844,"f":0.43,"c":-4.9},{"d":0.853,"f":0.43,"c":-4.9},{"d":0.862,"f":0.43,"c":-4.9},{"d":0.871,"f":0.43,"c":-4.9},{"d":0.88,"f":0.43,"c":-4.9},{"d":0.889,"f":0.43,"c":-4.9},{"d":0.898,"f":0.43,"c":-4.8},{"d":0.907,"f":0.43,"c":-4.6},{"d":0.916,"f":0.43,"c":-3.5},{"d":0.924,"f":0.43,"c":-2.2},{"d":0.933,"f":0.43,"c":-0.8},{"d":0.942,"f":0.43,"c":0.3},{"d":0.951,"f":0.43,"c":0.9},{"d":0.96,"f":0.43,"c":1.1},{"d":0.969,"f":0.43,"c":1.1},{"d":0.978,"f":0.43,"c":1},{"d":0.987,"f":0.43,"c":0.8},{"d":0.996,"f":0.43,"c":0.6},{"d":1.004,"f":0.43,"c":0.4},{"d":1.013,"f":0.43,"c":0.3},{"d":1.022,"f":0.43,"c":0.2},{"d":1.031,"f":0.43,"c":0.1},{"d":1.04,"f":0.43,"c":0.1},{"d":1.049,"f":0.43,"c":0.1},{"d":1.058,"f":0.43,"c":0.2},{"d":1.067,"f":0.43,"c":0.3},{"d":1.076,"f":0.43,"c":0.6},{"d":1.084,"f":0.43,"c":0.9},{"d":1.093,"f":0.43,"c":1.2},{"d":1.102,"f":0.43,"c":1.5},{"d":1.111,"f":0.43,"c":1.9},{"d":1.12,"f":0.43,"c":2.2},{"d":1.129,"f":0.43,"c":2.5},{"d":1.138,"f":0.43,"c":2.7},{"d":1.147,"f":0.43,"c":3},{"d":1.156,"f":0.43,"c":3.2},{"d":1.164,"f":0.43,"c":3.4},{"d":1.173,"f":0.43,"c":3.5},{"d":1.182,"f":0.43,"c":3.6},{"d":1.191,"f":0.43,"c":3.7},
{"d":0.8,"f":0.445,"c":-4.9},{"d":0.809,"f":0.445,"c":-4.9},{"d":0.818,"f":0.445,"c":-4.9},{"d":0.827,"f":0.445,"c":-4.9},{"d":0.836,"f":0.445,"c":-4.9},{"d":0.844,"f":0.445,"c":-4.9},{"d":0.853,"f":0.445,"c":-4.9},{"d":0.862,"f":0.445,"c":-4.9},{"d":0.871,"f":0.445,"c":-4.9},{"d":0.88,"f":0.445,"c":-4.9},{"d":0.889,"f":0.445,"c":-4.9},{"d":0.898,"f":0.445,"c":-4.9},{"d":0.907,"f":0.445,"c":-4.7},{"d":0.916,"f":0.445,"c":-3.8},{"d":0.924,"f":0.445,"c":-2.4},{"d":0.933,"f":0.445,"c":-1.1},{"d":0.942,"f":0.445,"c":0},{"d":0.951,"f":0.445,"c":0.5},{"d":0.96,"f":0.445,"c":0.7},{"d":0.969,"f":0.445,"c":0.7},{"d":0.978,"f":0.445,"c":0.6},{"d":0.987,"f":0.445,"c":0.5},{"d":0.996,"f":0.445,"c":0.3},{"d":1.004,"f":0.445,"c":0.1},{"d":1.013,"f":0.445,"c":-0.1},{"d":1.022,"f":0.445,"c":-0.3},{"d":1.031,"f":0.445,"c":-0.4},{"d":1.04,"f":0.445,"c":-0.5},{"d":1.049,"f":0.445,"c":-0.5},{"d":1.058,"f":0.445,"c":-0.4},{"d":1.067,"f":0.445,"c":-0.2},{"d":1.076,"f":0.445,"c":0.2},{"d":1.084,"f":0.445,"c":0.6},{"d":1.093,"f":0.445,"c":1},{"d":1.102,"f":0.445,"c":1.4},{"d":1.111,"f":0.445,"c":1.8},{"d":1.12,"f":0.445,"c":2.1},{"d":1.129,"f":0.445,"c":2.5},{"d":1.138,"f":0.445,"c":2.8},{"d":1.147,"f":0.445,"c":3},{"d":1.156,"f":0.445,"c":3.3},{"d":1.164,"f":0.445,"c":3.5},{"d":1.173,"f":0.445,"c":3.6},{"d":1.182,"f":0.445,"c":3.8},{"d":1.191,"f":0.445,"c":3.9},
{"d":0.8,"f":0.459,"c":-4.9},{"d":0.809,"f":0.459,"c":-4.9},{"d":0.818,"f":0.459,"c":-4.9},{"d":0.827,"f":0.459,"c":-4.9},{"d":0.836,"f":0.459,"c":-4.9},{"d":0.844,"f":0.459,"c":-4.9},{"d":0.853,"f":0.459,"c":-4.9},{"d":0.862,"f":0.459,"c":-4.9},{"d":0.871,"f":0.459,"c":-4.9},{"d":0.88,"f":0.459,"c":-4.9},{"d":0.889,"f":0.459,"c":-4.9},{"d":0.898,"f":0.459,"c":-4.9},{"d":0.907,"f":0.459,"c":-4.9},{"d":0.916,"f":0.459,"c":-4.2},{"d":0.924,"f":0.459,"c":-3},{"d":0.933,"f":0.459,"c":-1.6},{"d":0.942,"f":0.459,"c":-0.5},{"d":0.951,"f":0.459,"c":0.1},{"d":0.96,"f":0.459,"c":0.3},{"d":0.969,"f":0.459,"c":0.4},{"d":0.978,"f":0.459,"c":0.3},{"d":0.987,"f":0.459,"c":0.2},{"d":0.996,"f":0.459,"c":0},{"d":1.004,"f":0.459,"c":-0.2},{"d":1.013,"f":0.459,"c":-0.4},{"d":1.022,"f":0.459,"c":-0.6},{"d":1.031,"f":0.459,"c":-0.8},{"d":1.04,"f":0.459,"c":-0.9},{"d":1.049,"f":0.459,"c":-0.9},{"d":1.058,"f":0.459,"c":-0.9},{"d":1.067,"f":0.459,"c":-0.7},{"d":1.076,"f":0.459,"c":-0.3},{"d":1.084,"f":0.459,"c":0.2},{"d":1.093,"f":0.459,"c":0.8},{"d":1.102,"f":0.459,"c":1.3},{"d":1.111,"f":0.459,"c":1.7},{"d":1.12,"f":0.459,"c":2.1},{"d":1.129,"f":0.459,"c":2.5},{"d":1.138,"f":0.459,"c":2.8},{"d":1.147,"f":0.459,"c":3.1},{"d":1.156,"f":0.459,"c":3.3},{"d":1.164,"f":0.459,"c":3.5},{"d":1.173,"f":0.459,"c":3.7},{"d":1.182,"f":0.459,"c":3.9},{"d":1.191,"f":0.459,"c":4},
{"d":0.8,"f":0.474,"c":-4.9},{"d":0.809,"f":0.474,"c":-4.9},{"d":0.818,"f":0.474,"c":-4.9},{"d":0.827,"f":0.474,"c":-4.9},{"d":0.836,"f":0.474,"c":-4.9},{"d":0.844,"f":0.474,"c":-4.9},{"d":0.853,"f":0.474,"c":-4.9},{"d":0.862,"f":0.474,"c":-4.9},{"d":0.871,"f":0.474,"c":-4.9},{"d":0.88,"f":0.474,"c":-4.9},{"d":0.889,"f":0.474,"c":-4.9},{"d":0.898,"f":0.474,"c":-4.9},{"d":0.907,"f":0.474,"c":-4.9},{"d":0.916,"f":0.474,"c":-4.3},{"d":0.924,"f":0.474,"c":-3.1},{"d":0.933,"f":0.474,"c":-1.8},{"d":0.942,"f":0.474,"c":-0.8},{"d":0.951,"f":0.474,"c":-0.2},{"d":0.96,"f":0.474,"c":0},{"d":0.969,"f":0.474,"c":0.1},{"d":0.978,"f":0.474,"c":0.1},{"d":0.987,"f":0.474,"c":0},{"d":0.996,"f":0.474,"c":-0.2},{"d":1.004,"f":0.474,"c":-0.4},{"d":1.013,"f":0.474,"c":-0.6},{"d":1.022,"f":0.474,"c":-0.8},{"d":1.031,"f":0.474,"c":-1},{"d":1.04,"f":0.474,"c":-1.1},{"d":1.049,"f":0.474,"c":-1.2},{"d":1.058,"f":0.474,"c":-1.2},{"d":1.067,"f":0.474,"c":-1},{"d":1.076,"f":0.474,"c":-0.6},{"d":1.084,"f":0.474,"c":-0.1},{"d":1.093,"f":0.474,"c":0.5},{"d":1.102,"f":0.474,"c":1.1},{"d":1.111,"f":0.474,"c":1.6},{"d":1.12,"f":0.474,"c":2},{"d":1.129,"f":0.474,"c":2.4},{"d":1.138,"f":0.474,"c":2.7},{"d":1.147,"f":0.474,"c":3},{"d":1.156,"f":0.474,"c":3.3},{"d":1.164,"f":0.474,"c":3.5},{"d":1.173,"f":0.474,"c":3.7},{"d":1.182,"f":0.474,"c":3.9},{"d":1.191,"f":0.474,"c":4},
{"d":0.8,"f":0.489,"c":-4.9},{"d":0.809,"f":0.489,"c":-4.9},{"d":0.818,"f":0.489,"c":-4.9},{"d":0.827,"f":0.489,"c":-4.9},{"d":0.836,"f":0.489,"c":-4.9},{"d":0.844,"f":0.489,"c":-4.9},{"d":0.853,"f":0.489,"c":-4.9},{"d":0.862,"f":0.489,"c":-4.9},{"d":0.871,"f":0.489,"c":-4.9},{"d":0.88,"f":0.489,"c":-4.9},{"d":0.889,"f":0.489,"c":-4.9},{"d":0.898,"f":0.489,"c":-4.9},{"d":0.907,"f":0.489,"c":-4.9},{"d":0.916,"f":0.489,"c":-4.2},{"d":0.924,"f":0.489,"c":-3.1},{"d":0.933,"f":0.489,"c":-1.8},{"d":0.942,"f":0.489,"c":-0.8},{"d":0.951,"f":0.489,"c":-0.2},{"d":0.96,"f":0.489,"c":0},{"d":0.969,"f":0.489,"c":0.1},{"d":0.978,"f":0.489,"c":0.2},{"d":0.987,"f":0.489,"c":0.1},{"d":0.996,"f":0.489,"c":-0.1},{"d":1.004,"f":0.489,"c":-0.4},{"d":1.013,"f":0.489,"c":-0.7},{"d":1.022,"f":0.489,"c":-1},{"d":1.031,"f":0.489,"c":-1.2},{"d":1.04,"f":0.489,"c":-1.3},{"d":1.049,"f":0.489,"c":-1.4},{"d":1.058,"f":0.489,"c":-1.4},{"d":1.067,"f":0.489,"c":-1.2},{"d":1.076,"f":0.489,"c":-0.7},{"d":1.084,"f":0.489,"c":-0.1},{"d":1.093,"f":0.489,"c":0.5},{"d":1.102,"f":0.489,"c":1.1},{"d":1.111,"f":0.489,"c":1.6},{"d":1.12,"f":0.489,"c":2},{"d":1.129,"f":0.489,"c":2.4},{"d":1.138,"f":0.489,"c":2.8},{"d":1.147,"f":0.489,"c":3.1},{"d":1.156,"f":0.489,"c":3.4},{"d":1.164,"f":0.489,"c":3.6},{"d":1.173,"f":0.489,"c":3.8},{"d":1.182,"f":0.489,"c":4},{"d":1.191,"f":0.489,"c":4.1},
{"d":0.8,"f":0.504,"c":-4.9},{"d":0.809,"f":0.504,"c":-4.9},{"d":0.818,"f":0.504,"c":-4.9},{"d":0.827,"f":0.504,"c":-4.9},{"d":0.836,"f":0.504,"c":-4.9},{"d":0.844,"f":0.504,"c":-4.9},{"d":0.853,"f":0.504,"c":-4.9},{"d":0.862,"f":0.504,"c":-4.9},{"d":0.871,"f":0.504,"c":-4.9},{"d":0.88,"f":0.504,"c":-4.9},{"d":0.889,"f":0.504,"c":-4.9},{"d":0.898,"f":0.504,"c":-4.9},{"d":0.907,"f":0.504,"c":-4.9},{"d":0.916,"f":0.504,"c":-4.2},{"d":0.924,"f":0.504,"c":-3.1},{"d":0.933,"f":0.504,"c":-1.8},{"d":0.942,"f":0.504,"c":-0.8},{"d":0.951,"f":0.504,"c":-0.2},{"d":0.96,"f":0.504,"c":0},{"d":0.969,"f":0.504,"c":0.1},{"d":0.978,"f":0.504,"c":0.2},{"d":0.987,"f":0.504,"c":0.1},{"d":0.996,"f":0.504,"c":-0.1},{"d":1.004,"f":0.504,"c":-0.4},{"d":1.013,"f":0.504,"c":-0.7},{"d":1.022,"f":0.504,"c":-1},{"d":1.031,"f":0.504,"c":-1.3},{"d":1.04,"f":0.504,"c":-1.5},{"d":1.049,"f":0.504,"c":-1.6},{"d":1.058,"f":0.504,"c":-1.6},{"d":1.067,"f":0.504,"c":-1.3},{"d":1.076,"f":0.504,"c":-0.8},{"d":1.084,"f":0.504,"c":-0.2},{"d":1.093,"f":0.504,"c":0.5},{"d":1.102,"f":0.504,"c":1.1},{"d":1.111,"f":0.504,"c":1.6},{"d":1.12,"f":0.504,"c":2},{"d":1.129,"f":0.504,"c":2.4},{"d":1.138,"f":0.504,"c":2.8},{"d":1.147,"f":0.504,"c":3.1},{"d":1.156,"f":0.504,"c":3.4},{"d":1.164,"f":0.504,"c":3.7},{"d":1.173,"f":0.504,"c":3.9},{"d":1.182,"f":0.504,"c":4.1},{"d":1.191,"f":0.504,"c":4.2},
{"d":0.8,"f":0.519,"c":-4.9},{"d":0.809,"f":0.519,"c":-4.9},{"d":0.818,"f":0.519,"c":-4.9},{"d":0.827,"f":0.519,"c":-4.9},{"d":0.836,"f":0.519,"c":-4.9},{"d":0.844,"f":0.519,"c":-4.9},{"d":0.853,"f":0.519,"c":-4.9},{"d":0.862,"f":0.519,"c":-4.9},{"d":0.871,"f":0.519,"c":-4.9},{"d":0.88,"f":0.519,"c":-4.9},{"d":0.889,"f":0.519,"c":-4.9},{"d":0.898,"f":0.519,"c":-4.9},{"d":0.907,"f":0.519,"c":-4.9},{"d":0.916,"f":0.519,"c":-4.2},{"d":0.924,"f":0.519,"c":-3.1},{"d":0.933,"f":0.519,"c":-1.8},{"d":0.942,"f":0.519,"c":-0.9},{"d":0.951,"f":0.519,"c":-0.3},{"d":0.96,"f":0.519,"c":0},{"d":0.969,"f":0.519,"c":0.1},{"d":0.978,"f":0.519,"c":0.2},{"d":0.987,"f":0.519,"c":0.2},{"d":0.996,"f":0.519,"c":0},{"d":1.004,"f":0.519,"c":-0.3},{"d":1.013,"f":0.519,"c":-0.6},{"d":1.022,"f":0.519,"c":-0.9},{"d":1.031,"f":0.519,"c":-1.2},{"d":1.04,"f":0.519,"c":-1.5},{"d":1.049,"f":0.519,"c":-1.6},{"d":1.058,"f":0.519,"c":-1.6},{"d":1.067,"f":0.519,"c":-1.3},{"d":1.076,"f":0.519,"c":-0.8},{"d":1.084,"f":0.519,"c":-0.2},{"d":1.093,"f":0.519,"c":0.5},{"d":1.102,"f":0.519,"c":1.1},{"d":1.111,"f":0.519,"c":1.6},{"d":1.12,"f":0.519,"c":2.1},{"d":1.129,"f":0.519,"c":2.5},{"d":1.138,"f":0.519,"c":2.9},{"d":1.147,"f":0.519,"c":3.2},{"d":1.156,"f":0.519,"c":3.5},{"d":1.164,"f":0.519,"c":3.8},{"d":1.173,"f":0.519,"c":4},{"d":1.182,"f":0.519,"c":4.1},{"d":1.191,"f":0.519,"c":4.3},
{"d":0.8,"f":0.534,"c":-4.9},{"d":0.809,"f":0.534,"c":-4.9},{"d":0.818,"f":0.534,"c":-4.9},{"d":0.827,"f":0.534,"c":-4.9},{"d":0.836,"f":0.534,"c":-4.9},{"d":0.844,"f":0.534,"c":-4.9},{"d":0.853,"f":0.534,"c":-4.9},{"d":0.862,"f":0.534,"c":-4.9},{"d":0.871,"f":0.534,"c":-4.9},{"d":0.88,"f":0.534,"c":-4.9},{"d":0.889,"f":0.534,"c":-4.9},{"d":0.898,"f":0.534,"c":-4.9},{"d":0.907,"f":0.534,"c":-4.9},{"d":0.916,"f":0.534,"c":-4.2},{"d":0.924,"f":0.534,"c":-3.1},{"d":0.933,"f":0.534,"c":-1.8},{"d":0.942,"f":0.534,"c":-0.9},{"d":0.951,"f":0.534,"c":-0.3},{"d":0.96,"f":0.534,"c":0},{"d":0.969,"f":0.534,"c":0.2},{"d":0.978,"f":0.534,"c":0.3},{"d":0.987,"f":0.534,"c":0.3},{"d":0.996,"f":0.534,"c":0.2},{"d":1.004,"f":0.534,"c":0},{"d":1.013,"f":0.534,"c":-0.3},{"d":1.022,"f":0.534,"c":-0.6},{"d":1.031,"f":0.534,"c":-0.9},{"d":1.04,"f":0.534,"c":-1.2},{"d":1.049,"f":0.534,"c":-1.4},{"d":1.058,"f":0.534,"c":-1.4},{"d":1.067,"f":0.534,"c":-1.2},{"d":1.076,"f":0.534,"c":-0.7},{"d":1.084,"f":0.534,"c":-0.1},{"d":1.093,"f":0.534,"c":0.5},{"d":1.102,"f":0.534,"c":1.1},{"d":1.111,"f":0.534,"c":1.6},{"d":1.12,"f":0.534,"c":2.1},{"d":1.129,"f":0.534,"c":2.5},{"d":1.138,"f":0.534,"c":2.9},{"d":1.147,"f":0.534,"c":3.2},{"d":1.156,"f":0.534,"c":3.5},{"d":1.164,"f":0.534,"c":3.8},{"d":1.173,"f":0.534,"c":4},{"d":1.182,"f":0.534,"c":4.2},{"d":1.191,"f":0.534,"c":4.3},
{"d":0.8,"f":0.548,"c":-4.9},{"d":0.809,"f":0.548,"c":-4.9},{"d":0.818,"f":0.548,"c":-4.9},{"d":0.827,"f":0.548,"c":-4.9},{"d":0.836,"f":0.548,"c":-4.9},{"d":0.844,"f":0.548,"c":-4.9},{"d":0.853,"f":0.548,"c":-4.9},{"d":0.862,"f":0.548,"c":-4.9},{"d":0.871,"f":0.548,"c":-4.9},{"d":0.88,"f":0.548,"c":-4.9},{"d":0.889,"f":0.548,"c":-4.9},{"d":0.898,"f":0.548,"c":-4.9},{"d":0.907,"f":0.548,"c":-4.9},{"d":0.916,"f":0.548,"c":-4.2},{"d":0.924,"f":0.548,"c":-3.1},{"d":0.933,"f":0.548,"c":-1.9},{"d":0.942,"f":0.548,"c":-0.9},{"d":0.951,"f":0.548,"c":-0.3},{"d":0.96,"f":0.548,"c":0},{"d":0.969,"f":0.548,"c":0.2},{"d":0.978,"f":0.548,"c":0.3},{"d":0.987,"f":0.548,"c":0.3},{"d":0.996,"f":0.548,"c":0.2},{"d":1.004,"f":0.548,"c":0.1},{"d":1.013,"f":0.548,"c":-0.2},{"d":1.022,"f":0.548,"c":-0.4},{"d":1.031,"f":0.548,"c":-0.7},{"d":1.04,"f":0.548,"c":-0.9},{"d":1.049,"f":0.548,"c":-1.1},{"d":1.058,"f":0.548,"c":-1.1},{"d":1.067,"f":0.548,"c":-0.9},{"d":1.076,"f":0.548,"c":-0.5},{"d":1.084,"f":0.548,"c":0},{"d":1.093,"f":0.548,"c":0.6},{"d":1.102,"f":0.548,"c":1.1},{"d":1.111,"f":0.548,"c":1.7},{"d":1.12,"f":0.548,"c":2.2},{"d":1.129,"f":0.548,"c":2.6},{"d":1.138,"f":0.548,"c":3},{"d":1.147,"f":0.548,"c":3.3},{"d":1.156,"f":0.548,"c":3.6},{"d":1.164,"f":0.548,"c":3.9},{"d":1.173,"f":0.548,"c":4.1},{"d":1.182,"f":0.548,"c":4.3},{"d":1.191,"f":0.548,"c":4.4},
{"d":0.8,"f":0.563,"c":-4.9},{"d":0.809,"f":0.563,"c":-4.9},{"d":0.818,"f":0.563,"c":-4.9},{"d":0.827,"f":0.563,"c":-4.9},{"d":0.836,"f":0.563,"c":-4.9},{"d":0.844,"f":0.563,"c":-4.9},{"d":0.853,"f":0.563,"c":-4.9},{"d":0.862,"f":0.563,"c":-4.9},{"d":0.871,"f":0.563,"c":-4.9},{"d":0.88,"f":0.563,"c":-4.9},{"d":0.889,"f":0.563,"c":-4.9},{"d":0.898,"f":0.563,"c":-4.9},{"d":0.907,"f":0.563,"c":-4.9},{"d":0.916,"f":0.563,"c":-4.2},{"d":0.924,"f":0.563,"c":-3.2},{"d":0.933,"f":0.563,"c":-1.9},{"d":0.942,"f":0.563,"c":-1},{"d":0.951,"f":0.563,"c":-0.3},{"d":0.96,"f":0.563,"c":0},{"d":0.969,"f":0.563,"c":0.2},{"d":0.978,"f":0.563,"c":0.3},{"d":0.987,"f":0.563,"c":0.3},{"d":0.996,"f":0.563,"c":0.3},{"d":1.004,"f":0.563,"c":0.2},{"d":1.013,"f":0.563,"c":0},{"d":1.022,"f":0.563,"c":-0.2},{"d":1.031,"f":0.563,"c":-0.4},{"d":1.04,"f":0.563,"c":-0.6},{"d":1.049,"f":0.563,"c":-0.7},{"d":1.058,"f":0.563,"c":-0.7},{"d":1.067,"f":0.563,"c":-0.5},{"d":1.076,"f":0.563,"c":-0.1},{"d":1.084,"f":0.563,"c":0.4},{"d":1.093,"f":0.563,"c":0.9},{"d":1.102,"f":0.563,"c":1.4},{"d":1.111,"f":0.563,"c":1.9},{"d":1.12,"f":0.563,"c":2.3},{"d":1.129,"f":0.563,"c":2.7},{"d":1.138,"f":0.563,"c":3.1},{"d":1.147,"f":0.563,"c":3.4},{"d":1.156,"f":0.563,"c":3.7},{"d":1.164,"f":0.563,"c":4},{"d":1.173,"f":0.563,"c":4.2},{"d":1.182,"f":0.563,"c":4.4},{"d":1.191,"f":0.563,"c":4.5},
{"d":0.8,"f":0.578,"c":-4.9},{"d":0.809,"f":0.578,"c":-4.9},{"d":0.818,"f":0.578,"c":-4.9},{"d":0.827,"f":0.578,"c":-4.9},{"d":0.836,"f":0.578,"c":-4.9},{"d":0.844,"f":0.578,"c":-4.9},{"d":0.853,"f":0.578,"c":-4.9},{"d":0.862,"f":0.578,"c":-4.9},{"d":0.871,"f":0.578,"c":-4.9},{"d":0.88,"f":0.578,"c":-4.9},{"d":0.889,"f":0.578,"c":-4.9},{"d":0.898,"f":0.578,"c":-4.9},{"d":0.907,"f":0.578,"c":-4.9},{"d":0.916,"f":0.578,"c":-4.2},{"d":0.924,"f":0.578,"c":-3.2},{"d":0.933,"f":0.578,"c":-2},{"d":0.942,"f":0.578,"c":-1},{"d":0.951,"f":0.578,"c":-0.4},{"d":0.96,"f":0.578,"c":-0.1},{"d":0.969,"f":0.578,"c":0.1},{"d":0.978,"f":0.578,"c":0.2},{"d":0.987,"f":0.578,"c":0.3},{"d":0.996,"f":0.578,"c":0.3},{"d":1.004,"f":0.578,"c":0.3},{"d":1.013,"f":0.578,"c":0.1},{"d":1.022,"f":0.578,"c":0},{"d":1.031,"f":0.578,"c":-0.2},{"d":1.04,"f":0.578,"c":-0.3},{"d":1.049,"f":0.578,"c":-0.4},{"d":1.058,"f":0.578,"c":-0.3},{"d":1.067,"f":0.578,"c":-0.1},{"d":1.076,"f":0.578,"c":0.2},{"d":1.084,"f":0.578,"c":0.6},{"d":1.093,"f":0.578,"c":1.1},{"d":1.102,"f":0.578,"c":1.6},{"d":1.111,"f":0.578,"c":2},{"d":1.12,"f":0.578,"c":2.4},{"d":1.129,"f":0.578,"c":2.8},{"d":1.138,"f":0.578,"c":3.1},{"d":1.147,"f":0.578,"c":3.5},{"d":1.156,"f":0.578,"c":3.8},{"d":1.164,"f":0.578,"c":4.1},{"d":1.173,"f":0.578,"c":4.3},{"d":1.182,"f":0.578,"c":4.5},{"d":1.191,"f":0.578,"c":4.6},
{"d":0.8,"f":0.593,"c":-4.9},{"d":0.809,"f":0.593,"c":-4.9},{"d":0.818,"f":0.593,"c":-4.9},{"d":0.827,"f":0.593,"c":-4.9},{"d":0.836,"f":0.593,"c":-4.9},{"d":0.844,"f":0.593,"c":-4.9},{"d":0.853,"f":0.593,"c":-4.9},{"d":0.862,"f":0.593,"c":-4.9},{"d":0.871,"f":0.593,"c":-4.9},{"d":0.88,"f":0.593,"c":-4.9},{"d":0.889,"f":0.593,"c":-4.9},{"d":0.898,"f":0.593,"c":-4.9},{"d":0.907,"f":0.593,"c":-4.9},{"d":0.916,"f":0.593,"c":-4.2},{"d":0.924,"f":0.593,"c":-3.2},{"d":0.933,"f":0.593,"c":-2},{"d":0.942,"f":0.593,"c":-1},{"d":0.951,"f":0.593,"c":-0.4},{"d":0.96,"f":0.593,"c":-0.1},{"d":0.969,"f":0.593,"c":0.1},{"d":0.978,"f":0.593,"c":0.2},{"d":0.987,"f":0.593,"c":0.3},{"d":0.996,"f":0.593,"c":0.3},{"d":1.004,"f":0.593,"c":0.3},{"d":1.013,"f":0.593,"c":0.2},{"d":1.022,"f":0.593,"c":0.1},{"d":1.031,"f":0.593,"c":0},{"d":1.04,"f":0.593,"c":-0.1},{"d":1.049,"f":0.593,"c":-0.1},{"d":1.058,"f":0.593,"c":0},{"d":1.067,"f":0.593,"c":0.2},{"d":1.076,"f":0.593,"c":0.5},{"d":1.084,"f":0.593,"c":0.9},{"d":1.093,"f":0.593,"c":1.3},{"d":1.102,"f":0.593,"c":1.7},{"d":1.111,"f":0.593,"c":2.1},{"d":1.12,"f":0.593,"c":2.5},{"d":1.129,"f":0.593,"c":2.9},{"d":1.138,"f":0.593,"c":3.2},{"d":1.147,"f":0.593,"c":3.5},{"d":1.156,"f":0.593,"c":3.8},{"d":1.164,"f":0.593,"c":4.1},{"d":1.173,"f":0.593,"c":4.3},{"d":1.182,"f":0.593,"c":4.5},{"d":1.191,"f":0.593,"c":4.6},
{"d":0.8,"f":0.608,"c":-4.9},{"d":0.809,"f":0.608,"c":-4.9},{"d":0.818,"f":0.608,"c":-4.9},{"d":0.827,"f":0.608,"c":-4.9},{"d":0.836,"f":0.608,"c":-4.9},{"d":0.844,"f":0.608,"c":-4.9},{"d":0.853,"f":0.608,"c":-4.9},{"d":0.862,"f":0.608,"c":-4.9},{"d":0.871,"f":0.608,"c":-4.9},{"d":0.88,"f":0.608,"c":-4.9},{"d":0.889,"f":0.608,"c":-4.9},{"d":0.898,"f":0.608,"c":-4.9},{"d":0.907,"f":0.608,"c":-4.9},{"d":0.916,"f":0.608,"c":-4.2},{"d":0.924,"f":0.608,"c":-3.2},{"d":0.933,"f":0.608,"c":-2},{"d":0.942,"f":0.608,"c":-1},{"d":0.951,"f":0.608,"c":-0.4},{"d":0.96,"f":0.608,"c":-0.1},{"d":0.969,"f":0.608,"c":0.1},{"d":0.978,"f":0.608,"c":0.2},{"d":0.987,"f":0.608,"c":0.3},{"d":0.996,"f":0.608,"c":0.3},{"d":1.004,"f":0.608,"c":0.4},{"d":1.013,"f":0.608,"c":0.3},{"d":1.022,"f":0.608,"c":0.3},{"d":1.031,"f":0.608,"c":0.2},{"d":1.04,"f":0.608,"c":0.2},{"d":1.049,"f":0.608,"c":0.2},{"d":1.058,"f":0.608,"c":0.3},{"d":1.067,"f":0.608,"c":0.5},{"d":1.076,"f":0.608,"c":0.7},{"d":1.084,"f":0.608,"c":1.1},{"d":1.093,"f":0.608,"c":1.4},{"d":1.102,"f":0.608,"c":1.8},{"d":1.111,"f":0.608,"c":2.2},{"d":1.12,"f":0.608,"c":2.6},{"d":1.129,"f":0.608,"c":2.9},{"d":1.138,"f":0.608,"c":3.2},{"d":1.147,"f":0.608,"c":3.5},{"d":1.156,"f":0.608,"c":3.8},{"d":1.164,"f":0.608,"c":4.1},{"d":1.173,"f":0.608,"c":4.4},{"d":1.182,"f":0.608,"c":4.5},{"d":1.191,"f":0.608,"c":4.6},
{"d":0.8,"f":0.622,"c":-4.9},{"d":0.809,"f":0.622,"c":-4.9},{"d":0.818,"f":0.622,"c":-4.9},{"d":0.827,"f":0.622,"c":-4.9},{"d":0.836,"f":0.622,"c":-4.9},{"d":0.844,"f":0.622,"c":-4.9},{"d":0.853,"f":0.622,"c":-4.9},{"d":0.862,"f":0.622,"c":-4.9},{"d":0.871,"f":0.622,"c":-4.9},{"d":0.88,"f":0.622,"c":-4.9},{"d":0.889,"f":0.622,"c":-4.9},{"d":0.898,"f":0.622,"c":-4.9},{"d":0.907,"f":0.622,"c":-4.9},{"d":0.916,"f":0.622,"c":-4.2},{"d":0.924,"f":0.622,"c":-3.2},{"d":0.933,"f":0.622,"c":-2},{"d":0.942,"f":0.622,"c":-1.1},{"d":0.951,"f":0.622,"c":-0.5},{"d":0.96,"f":0.622,"c":-0.1},{"d":0.969,"f":0.622,"c":0},{"d":0.978,"f":0.622,"c":0.2},{"d":0.987,"f":0.622,"c":0.3},{"d":0.996,"f":0.622,"c":0.4},{"d":1.004,"f":0.622,"c":0.4},{"d":1.013,"f":0.622,"c":0.4},{"d":1.022,"f":0.622,"c":0.5},{"d":1.031,"f":0.622,"c":0.5},{"d":1.04,"f":0.622,"c":0.5},{"d":1.049,"f":0.622,"c":0.5},{"d":1.058,"f":0.622,"c":0.6},{"d":1.067,"f":0.622,"c":0.8},{"d":1.076,"f":0.622,"c":1},{"d":1.084,"f":0.622,"c":1.3},{"d":1.093,"f":0.622,"c":1.6},{"d":1.102,"f":0.622,"c":1.9},{"d":1.111,"f":0.622,"c":2.3},{"d":1.12,"f":0.622,"c":2.6},{"d":1.129,"f":0.622,"c":3},{"d":1.138,"f":0.622,"c":3.3},{"d":1.147,"f":0.622,"c":3.6},{"d":1.156,"f":0.622,"c":3.9},{"d":1.164,"f":0.622,"c":4.2},{"d":1.173,"f":0.622,"c":4.4},{"d":1.182,"f":0.622,"c":4.6},{"d":1.191,"f":0.622,"c":4.7},
{"d":0.8,"f":0.637,"c":-4.9},{"d":0.809,"f":0.637,"c":-4.9},{"d":0.818,"f":0.637,"c":-4.9},{"d":0.827,"f":0.637,"c":-4.9},{"d":0.836,"f":0.637,"c":-4.9},{"d":0.844,"f":0.637,"c":-4.9},{"d":0.853,"f":0.637,"c":-4.9},{"d":0.862,"f":0.637,"c":-4.9},{"d":0.871,"f":0.637,"c":-4.9},{"d":0.88,"f":0.637,"c":-4.9},{"d":0.889,"f":0.637,"c":-4.9},{"d":0.898,"f":0.637,"c":-4.9},{"d":0.907,"f":0.637,"c":-4.9},{"d":0.916,"f":0.637,"c":-4.2},{"d":0.924,"f":0.637,"c":-3.2},{"d":0.933,"f":0.637,"c":-2},{"d":0.942,"f":0.637,"c":-1.1},{"d":0.951,"f":0.637,"c":-0.5},{"d":0.96,"f":0.637,"c":-0.2},{"d":0.969,"f":0.637,"c":0},{"d":0.978,"f":0.637,"c":0.2},{"d":0.987,"f":0.637,"c":0.3},{"d":0.996,"f":0.637,"c":0.4},{"d":1.004,"f":0.637,"c":0.5},{"d":1.013,"f":0.637,"c":0.5},{"d":1.022,"f":0.637,"c":0.6},{"d":1.031,"f":0.637,"c":0.7},{"d":1.04,"f":0.637,"c":0.7},{"d":1.049,"f":0.637,"c":0.8},{"d":1.058,"f":0.637,"c":0.8},{"d":1.067,"f":0.637,"c":1},{"d":1.076,"f":0.637,"c":1.2},{"d":1.084,"f":0.637,"c":1.4},{"d":1.093,"f":0.637,"c":1.7},{"d":1.102,"f":0.637,"c":2},{"d":1.111,"f":0.637,"c":2.4},{"d":1.12,"f":0.637,"c":2.7},{"d":1.129,"f":0.637,"c":3},{"d":1.138,"f":0.637,"c":3.3},{"d":1.147,"f":0.637,"c":3.6},{"d":1.156,"f":0.637,"c":3.9},{"d":1.164,"f":0.637,"c":4.2},{"d":1.173,"f":0.637,"c":4.4},{"d":1.182,"f":0.637,"c":4.6},{"d":1.191,"f":0.637,"c":4.7},
{"d":0.8,"f":0.652,"c":-4.9},{"d":0.809,"f":0.652,"c":-4.9},{"d":0.818,"f":0.652,"c":-4.9},{"d":0.827,"f":0.652,"c":-4.9},{"d":0.836,"f":0.652,"c":-4.9},{"d":0.844,"f":0.652,"c":-4.9},{"d":0.853,"f":0.652,"c":-4.9},{"d":0.862,"f":0.652,"c":-4.9},{"d":0.871,"f":0.652,"c":-4.9},{"d":0.88,"f":0.652,"c":-4.9},{"d":0.889,"f":0.652,"c":-4.9},{"d":0.898,"f":0.652,"c":-4.9},{"d":0.907,"f":0.652,"c":-4.9},{"d":0.916,"f":0.652,"c":-4.2},{"d":0.924,"f":0.652,"c":-3.2},{"d":0.933,"f":0.652,"c":-2},{"d":0.942,"f":0.652,"c":-1.1},{"d":0.951,"f":0.652,"c":-0.5},{"d":0.96,"f":0.652,"c":-0.2},{"d":0.969,"f":0.652,"c":0},{"d":0.978,"f":0.652,"c":0.2},{"d":0.987,"f":0.652,"c":0.3},{"d":0.996,"f":0.652,"c":0.4},{"d":1.004,"f":0.652,"c":0.5},{"d":1.013,"f":0.652,"c":0.6},{"d":1.022,"f":0.652,"c":0.7},{"d":1.031,"f":0.652,"c":0.8},{"d":1.04,"f":0.652,"c":0.8},{"d":1.049,"f":0.652,"c":0.9},{"d":1.058,"f":0.652,"c":1},{"d":1.067,"f":0.652,"c":1.1},{"d":1.076,"f":0.652,"c":1.3},{"d":1.084,"f":0.652,"c":1.5},{"d":1.093,"f":0.652,"c":1.8},{"d":1.102,"f":0.652,"c":2.1},{"d":1.111,"f":0.652,"c":2.4},{"d":1.12,"f":0.652,"c":2.7},{"d":1.129,"f":0.652,"c":3},{"d":1.138,"f":0.652,"c":3.3},{"d":1.147,"f":0.652,"c":3.6},{"d":1.156,"f":0.652,"c":3.9},{"d":1.164,"f":0.652,"c":4.2},{"d":1.173,"f":0.652,"c":4.4},{"d":1.182,"f":0.652,"c":4.6},{"d":1.191,"f":0.652,"c":4.7}
]},
"mark": {"type": "rect", "stroke": "black", "strokeWidth": 0.7, "strokeOpacity": 0.33},
"encoding": {
"x": {"field": "d", "type": "quantitative", "bin": {"binned": true, "step": 0.008889}, "scale": {"domain": [0.8, 1.2], "nice": false, "zero": false}, "axis": {"values": [0.8, 0.9, 1, 1.1, 1.2], "format": "~g", "title": "Density (g/cm³)", "ticks": false, "domain": false, "grid": false, "labelFlush": false, "labelFont": "Liberation Serif", "labelFontSize": 19, "labelColor": "black", "labelPadding": 11, "titleFont": "Liberation Serif", "titleFontSize": 23, "titleFontWeight": "normal", "titleColor": "black", "titlePadding": 8}},
"y": {"field": "f", "type": "quantitative", "bin": {"binned": true, "step": 0.014822}, "scale": {"domain": [0, 0.667], "nice": false, "zero": false}, "axis": {"values": [0, 0.1, 0.2, 0.3, 0.4, 0.5, 0.6], "format": "~g", "title": "Normal Force (kPa)", "ticks": false, "domain": false, "grid": false, "labelFlush": false, "labelFont": "Liberation Serif", "labelFontSize": 19, "labelColor": "black", "labelPadding": 4, "titleFont": "Liberation Serif", "titleFontSize": 22.5, "titleFontWeight": "normal", "titleColor": "black", "titlePadding": 10}},
"color": {"field": "c", "type": "quantitative",
 "scale": {"type": "linear", "domain": [-5, -3.73, -2.778, -1.825, -0.556, 0.714, 1.667, 2.937, 3.889, 5.159, 6.111, 7.381, 8.333, 9.286, 10.238, 10.873, 11.508, 12.143, 12.778, 13.73, 15], "range": ["#3E26A8", "#4537D5", "#4747EB", "#4758F8", "#3E6FFF", "#2E87F7", "#2796EB", "#1CA9DF", "#08B5D0", "#19BFB6", "#31C69F", "#57CC7A", "#81CC59", "#ABC739", "#D1BF27", "#E6BB2D", "#F8BA3D", "#FEC338", "#FCCF30", "#F5E327", "#F9FB15"], "interpolate": "rgb", "clamp": true},
 "legend": {"orient": "none", "legendX": 361, "legendY": 0, "direction": "vertical", "gradientLength": 328, "gradientThickness": 15, "values": [-5, 0, 5, 10, 15], "labelExpr": "datum.value == 15 ? '15\u00a0\u00a0\u00a0Increase' : datum.value == -5 ? '-5\u00a0\u00a0\u00a0\u00a0Decrease' : datum.label", "labelFont": "Liberation Serif", "labelFontSize": 17.5, "labelColor": "black", "labelOffset": 8, "labelOverlap": false, "labelLimit": 300, "title": "Change in Shear Strength (%)", "titleLimit": 500, "titleOrient": "right", "titleAnchor": "middle", "titleFont": "Liberation Serif", "titleFontSize": 21, "titleFontWeight": "normal", "titleColor": "black", "titlePadding": -40, "padding": 0, "gradientStrokeColor": "#b0b0b0", "gradientStrokeWidth": 0.5,
  "encode": {"labels": {"update": {"baseline": {"value": "middle"}}}, "title": {"update": {"angle": {"value": 270}, "dx": {"value": 10}}}}}}
}
}
